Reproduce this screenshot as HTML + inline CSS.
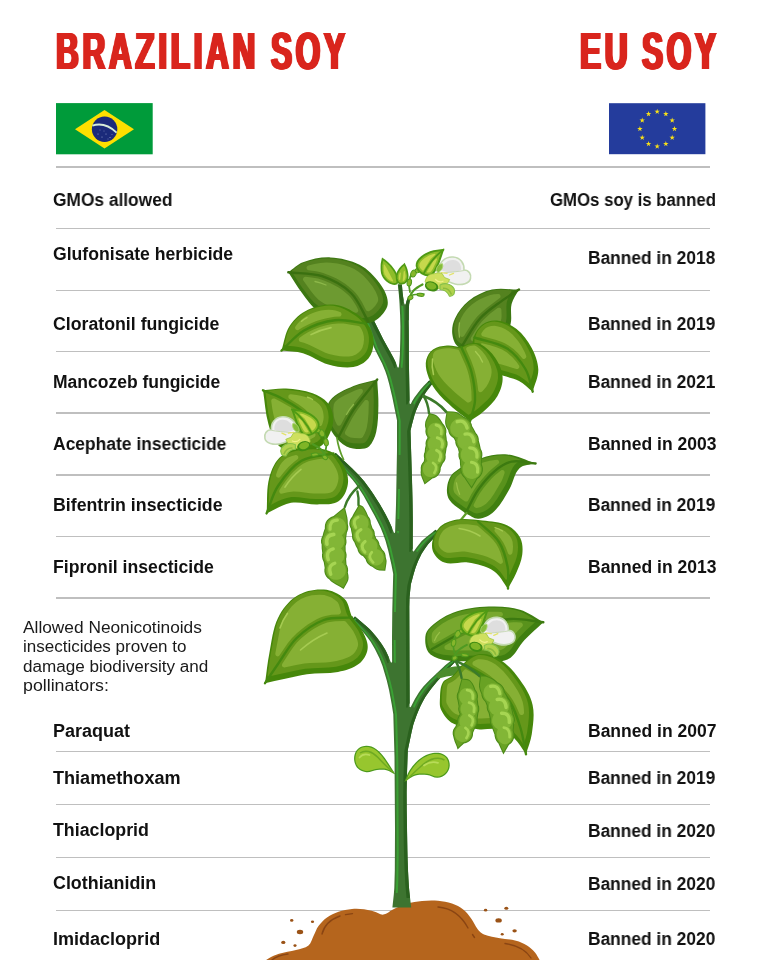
<!DOCTYPE html>
<html lang="en">
<head>
<meta charset="utf-8">
<title>Brazilian soy vs EU soy</title>
<style>
html,body{margin:0;padding:0;background:#fff;}
#pg{position:relative;width:768px;height:960px;overflow:hidden;background:#fff;font-family:"Liberation Sans",sans-serif;}
.t{position:absolute;white-space:nowrap;line-height:1;transform-origin:0 0;color:#111;will-change:transform;}
.b{font-weight:700;font-size:17.5px;}
.r{font-weight:400;font-size:16.0px;color:#1a1a1a;}
.h{font-weight:700;font-size:52.0px;color:#d9251d;letter-spacing:5.95px;font-kerning:none;text-shadow:1.15px 0 0 #d9251d,-1.15px 0 0 #d9251d,2.3px 0 0 #d9251d,-2.3px 0 0 #d9251d;}
.ln{position:absolute;left:56px;width:654.3px;height:1.5px;background:#bfbfbf;}
#art{position:absolute;left:0;top:0;}
</style>
</head>
<body>
<div id="pg">
<div class="ln" style="top:166.20px"></div>
<div class="ln" style="top:227.85px"></div>
<div class="ln" style="top:289.65px"></div>
<div class="ln" style="top:350.75px"></div>
<div class="ln" style="top:412.35px"></div>
<div class="ln" style="top:474.05px"></div>
<div class="ln" style="top:535.75px"></div>
<div class="ln" style="top:597.05px"></div>
<div class="ln" style="top:750.85px"></div>
<div class="ln" style="top:803.75px"></div>
<div class="ln" style="top:856.65px"></div>
<div class="ln" style="top:909.65px"></div>
<div class="t h" id="h0" style="left:55.90px;top:25.28px;transform:scaleX(0.608)">BRAZILIAN</div>
<div class="t h" id="h1" style="left:270.71px;top:25.28px;transform:scaleX(0.608)">SOY</div>
<div class="t h" id="h2" style="left:579.66px;top:25.28px;transform:scaleX(0.608)">EU</div>
<div class="t h" id="h3" style="left:642.00px;top:25.28px;transform:scaleX(0.608)">SOY</div>
<div class="t b" id="l0" style="left:52.80px;top:191.79px;transform:scaleX(0.9900)">GMOs allowed</div>
<div class="t b" id="l1" style="left:52.80px;top:246.29px;transform:scaleX(1.0067)">Glufonisate herbicide</div>
<div class="t b" id="l2" style="left:52.80px;top:316.29px;transform:scaleX(1.0128)">Cloratonil fungicide</div>
<div class="t b" id="l3" style="left:52.80px;top:374.19px;transform:scaleX(0.9988)">Mancozeb fungicide</div>
<div class="t b" id="l4" style="left:52.80px;top:435.59px;transform:scaleX(0.9960)">Acephate insecticide</div>
<div class="t b" id="l5" style="left:52.80px;top:497.09px;transform:scaleX(1.0138)">Bifentrin insecticide</div>
<div class="t b" id="l6" style="left:52.80px;top:558.79px;transform:scaleX(1.0082)">Fipronil insecticide</div>
<div class="t b" id="l7" style="left:53.40px;top:722.79px;transform:scaleX(1.0280)">Paraquat</div>
<div class="t b" id="l8" style="left:52.80px;top:769.79px;transform:scaleX(1.0333)">Thiamethoxam</div>
<div class="t b" id="l9" style="left:52.80px;top:821.59px;transform:scaleX(1.0170)">Thiacloprid</div>
<div class="t b" id="l10" style="left:52.80px;top:874.59px;transform:scaleX(1.0208)">Clothianidin</div>
<div class="t b" id="l11" style="left:52.80px;top:931.29px;transform:scaleX(1.0298)">Imidacloprid</div>
<div class="t b" id="r0" style="left:549.90px;top:191.79px;transform:scaleX(0.9584)">GMOs soy is banned</div>
<div class="t b" id="r1" style="left:587.90px;top:250.09px;transform:scaleX(0.9907)">Banned in 2018</div>
<div class="t b" id="r2" style="left:587.90px;top:316.29px;transform:scaleX(0.9907)">Banned in 2019</div>
<div class="t b" id="r3" style="left:587.90px;top:374.29px;transform:scaleX(0.9907)">Banned in 2021</div>
<div class="t b" id="r4" style="left:587.90px;top:435.59px;transform:scaleX(0.9984)">Banned in 2003</div>
<div class="t b" id="r5" style="left:587.90px;top:497.29px;transform:scaleX(0.9907)">Banned in 2019</div>
<div class="t b" id="r6" style="left:587.90px;top:559.29px;transform:scaleX(0.9984)">Banned in 2013</div>
<div class="t b" id="r7" style="left:587.90px;top:722.89px;transform:scaleX(0.9984)">Banned in 2007</div>
<div class="t b" id="r8" style="left:587.90px;top:769.69px;transform:scaleX(0.9907)">Banned in 2019</div>
<div class="t b" id="r9" style="left:587.90px;top:823.09px;transform:scaleX(0.9907)">Banned in 2020</div>
<div class="t b" id="r10" style="left:587.90px;top:876.39px;transform:scaleX(0.9907)">Banned in 2020</div>
<div class="t b" id="r11" style="left:587.90px;top:931.39px;transform:scaleX(0.9907)">Banned in 2020</div>
<div class="t r" id="p0" style="left:22.60px;top:619.96px;transform:scaleX(1.0812)">Allowed Neonicotinoids</div>
<div class="t r" id="p1" style="left:22.80px;top:639.46px;transform:scaleX(1.0623)">insecticides proven to</div>
<div class="t r" id="p2" style="left:22.80px;top:658.96px;transform:scaleX(1.0688)">damage biodiversity and</div>
<div class="t r" id="p3" style="left:22.80px;top:677.96px;transform:scaleX(1.1104)">pollinators:</div>
<svg id="art" width="768" height="960" viewBox="0 0 768 960">
<g id="flag-br"><rect x="56" y="103.1" width="96.7" height="51.2" fill="#009b3a"/><polygon points="75,129.2 104.5,109.9 134,129.2 104.5,148.5" fill="#fedf00"/><circle cx="104.6" cy="129.25" r="12.7" fill="#1b2a7a"/><path d="M92.4,125.6 Q105,121.6 116.6,132.6" fill="none" stroke="#d6ecd8" stroke-width="1.9"/><g fill="#aab8e0"><circle cx="98" cy="134" r=".5"/><circle cx="102" cy="137" r=".5"/><circle cx="106" cy="134" r=".5"/><circle cx="110" cy="137.5" r=".5"/><circle cx="104" cy="131" r=".45"/><circle cx="100" cy="130" r=".45"/><circle cx="108" cy="139" r=".45"/><circle cx="112" cy="134.5" r=".45"/></g></g>
<g id="flag-eu"><rect x="609" y="103.2" width="96.4" height="51" fill="#243c9c"/><g fill="#f7e018"><polygon points="657.20,108.80 657.85,110.80 659.96,110.80 658.25,112.04 658.90,114.05 657.20,112.81 655.50,114.05 656.15,112.04 654.44,110.80 656.55,110.80"/><polygon points="665.85,111.12 666.50,113.12 668.61,113.12 666.90,114.36 667.55,116.36 665.85,115.13 664.15,116.36 664.80,114.36 663.09,113.12 665.20,113.12"/><polygon points="672.18,117.45 672.83,119.45 674.94,119.45 673.24,120.69 673.89,122.70 672.18,121.46 670.48,122.70 671.13,120.69 669.42,119.45 671.53,119.45"/><polygon points="674.50,126.10 675.15,128.10 677.26,128.10 675.55,129.34 676.20,131.35 674.50,130.11 672.80,131.35 673.45,129.34 671.74,128.10 673.85,128.10"/><polygon points="672.18,134.75 672.83,136.75 674.94,136.75 673.24,137.99 673.89,140.00 672.18,138.76 670.48,140.00 671.13,137.99 669.42,136.75 671.53,136.75"/><polygon points="665.85,141.08 666.50,143.09 668.61,143.09 666.90,144.32 667.55,146.33 665.85,145.09 664.15,146.33 664.80,144.32 663.09,143.09 665.20,143.09"/><polygon points="657.20,143.40 657.85,145.40 659.96,145.40 658.25,146.64 658.90,148.65 657.20,147.41 655.50,148.65 656.15,146.64 654.44,145.40 656.55,145.40"/><polygon points="648.55,141.08 649.20,143.09 651.31,143.09 649.60,144.32 650.25,146.33 648.55,145.09 646.85,146.33 647.50,144.32 645.79,143.09 647.90,143.09"/><polygon points="642.22,134.75 642.87,136.75 644.98,136.75 643.27,137.99 643.92,140.00 642.22,138.76 640.51,140.00 641.16,137.99 639.46,136.75 641.57,136.75"/><polygon points="639.90,126.10 640.55,128.10 642.66,128.10 640.95,129.34 641.60,131.35 639.90,130.11 638.20,131.35 638.85,129.34 637.14,128.10 639.25,128.10"/><polygon points="642.22,117.45 642.87,119.45 644.98,119.45 643.27,120.69 643.92,122.70 642.22,121.46 640.51,122.70 641.16,120.69 639.46,119.45 641.57,119.45"/><polygon points="648.55,111.12 649.20,113.12 651.31,113.12 649.60,114.36 650.25,116.36 648.55,115.13 646.85,116.36 647.50,114.36 645.79,113.12 647.90,113.12"/></g></g>
<g id="plant"><g id="soil"><path d="M262.0,963.0C264.2,961.5 266.2,959.8 268.5,958.5C271.9,956.7 275.3,954.9 279.0,953.8C284.5,952.1 290.4,951.6 296.0,950.0C300.3,948.8 305.0,948.3 308.5,945.5C311.3,943.3 311.9,939.2 313.5,936.0C315.2,932.7 316.3,929.0 318.5,926.0C320.9,922.8 323.7,919.8 327.0,917.5C330.5,915.0 334.4,913.2 338.5,911.8C342.9,910.3 347.4,909.4 352.0,909.0C356.0,908.6 360.0,908.8 364.0,909.3C367.4,909.7 370.7,910.7 374.0,911.6C377.2,912.5 380.2,915.0 383.5,914.6C387.1,914.2 389.7,911.0 393.0,909.5C397.6,907.4 402.1,905.0 407.0,903.6C411.9,902.2 416.9,901.5 422.0,901.0C427.3,900.5 432.7,900.3 438.0,900.8C442.7,901.2 447.5,902.0 452.0,903.6C456.1,905.0 460.1,907.1 463.5,909.8C466.7,912.3 469.1,915.7 471.5,919.0C473.8,922.1 475.1,926.0 477.5,929.0C479.3,931.2 481.4,933.4 484.0,934.5C489.1,936.6 494.6,937.1 500.0,938.2C505.3,939.2 510.8,939.4 516.0,940.8C519.8,941.8 523.6,943.4 527.0,945.5C530.0,947.4 532.7,949.8 535.0,952.5C536.9,954.7 538.1,957.5 539.6,960.0C540.1,961.0 540.5,962.0 541.0,963.0C448.0,963.0 355.0,963.0 262.0,963.0Z" fill="#b5651d"/><path d="M322,934 C324,926 330,919.5 340,916" fill="none" stroke="#8a4513" stroke-width="1.4" stroke-linecap="round"/><path d="M345.5,914.6 L352.5,913.6" fill="none" stroke="#8a4513" stroke-width="1.4" stroke-linecap="round"/><path d="M438,907 C451,908 461,915 468,928" fill="none" stroke="#8a4513" stroke-width="1.4" stroke-linecap="round"/><path d="M472.5,934.5 L474.5,937.5" fill="none" stroke="#8a4513" stroke-width="1.4" stroke-linecap="round"/><path d="M272,960 C276,956.5 281,955 288,954" fill="none" stroke="#8a4513" stroke-width="1.4" stroke-linecap="round"/><path d="M505,943.5 C516,945 526,950 531,958" fill="none" stroke="#8a4513" stroke-width="1.4" stroke-linecap="round"/><ellipse cx="291.7" cy="920.4" rx="1.7" ry="1.4" fill="#9a5216"/><ellipse cx="312.5" cy="921.7" rx="1.6" ry="1.3" fill="#9a5216"/><ellipse cx="300" cy="932" rx="3.2" ry="2.2" fill="#9a5216"/><ellipse cx="283.3" cy="942.4" rx="2.1" ry="1.6" fill="#9a5216"/><ellipse cx="295" cy="945.6" rx="1.6" ry="1.3" fill="#9a5216"/><ellipse cx="485.6" cy="910.2" rx="1.7" ry="1.4" fill="#9a5216"/><ellipse cx="506.3" cy="908.3" rx="2.0" ry="1.5" fill="#9a5216"/><ellipse cx="498.6" cy="920.4" rx="3.2" ry="2.2" fill="#9a5216"/><ellipse cx="514.6" cy="930.8" rx="2.2" ry="1.6" fill="#9a5216"/><ellipse cx="502.2" cy="934.2" rx="1.5" ry="1.2" fill="#9a5216"/></g>
<g id="stems"><path d="M331.5,457.1L346.9,473.5L352.7,480.1L355.4,483.6L359.7,489.7L363.7,496.1L374.6,515.7L377.8,521.9L380.7,528.1L383.2,534.3L385.5,540.7L388.2,550.6L391.4,564.5L392.8,571.7L393.2,574.1L392.3,610.0L392.0,636.7L392.1,661.9L391.9,662.4L391.3,662.6L390.8,662.2L388.9,657.5L386.5,652.1L385.1,649.4L382.1,644.6L377.0,637.6L371.5,631.1L369.5,629.1L365.3,625.3L354.9,616.5L351.5,620.1L361.0,629.8L364.5,633.7L367.7,637.8L370.8,642.1L374.9,648.9L379.6,658.4L382.5,665.9L386.7,680.3L389.1,690.3L391.7,704.2L393.3,714.3L394.5,757.0L395.0,830.0L394.8,870.7L394.3,888.0L393.8,894.5L392.4,907.5L411.2,907.5L409.3,891.3L408.7,883.3L407.9,869.3L407.3,850.0L406.7,811.0L406.6,792.0L407.0,770.7L407.8,750.1L411.7,731.5L413.3,724.8L414.3,721.6L417.8,712.1L420.5,705.9L422.0,702.9L425.3,697.0L429.5,690.9L432.0,687.7L437.3,681.3L450.3,667.0L455.2,661.8L452.8,659.2L445.2,665.3L429.6,679.9L423.6,686.3L420.8,689.7L418.7,692.7L414.9,699.0L410.9,706.8L410.4,707.2L409.8,707.0L409.6,706.5L409.3,606.7L409.5,597.7L410.8,584.6L413.5,574.5L415.6,567.5L418.1,561.0L421.6,553.8L424.7,548.9L428.3,544.0L431.1,540.9L438.8,533.1L435.6,529.7L426.9,536.5L423.4,539.5L421.7,541.1L418.9,544.4L416.2,547.9L413.9,551.2L413.3,551.4L412.8,551.1L412.7,550.7L412.8,523.8L412.6,504.5L412.2,485.0L410.5,430.7L411.7,425.4L414.8,414.1L416.3,409.9L418.7,404.4L421.3,399.5L426.3,391.8L432.7,383.3L429.3,380.3L423.8,385.8L420.5,389.4L414.4,397.5L412.2,401.1L410.9,403.7L410.4,404.0L409.8,403.8L409.6,403.3L408.9,362.5L408.8,328.7L408.6,320.5L408.8,320.0L408.8,310.5L409.1,304.5L409.7,301.3L411.4,297.0L409.0,296.0L406.7,300.3L405.6,304.2L405.1,304.5L404.5,304.3L403.9,302.0L403.1,296.7L402.4,290.8L401.9,284.5L397.8,284.5L398.9,294.8L399.5,303.0L400.1,315.0L400.4,326.5L400.3,338.8L399.9,354.2L399.3,362.7L398.8,367.0L398.6,367.4L398.0,367.6L397.5,367.2L396.4,364.1L393.6,358.1L387.5,347.1L383.2,339.2L373.2,319.1L365.2,322.5L370.5,337.8L373.9,347.0L376.7,352.9L382.2,363.7L385.3,371.2L387.0,376.2L389.1,383.8L392.2,396.7L397.0,420.4L397.0,450.0L396.0,505.0L395.1,532.3L394.9,532.7L394.3,532.9L393.8,532.6L391.8,527.2L388.7,520.4L385.4,513.9L380.0,504.5L373.7,494.5L369.2,487.9L364.4,481.5L361.8,478.4L358.7,474.9L352.2,468.4L335.7,452.9Z" fill="#3d7430"/><path d="M409.8,898.0L410.0,897.7L409.0,888.0L408.4,878.7L407.6,860.0L406.7,811.0L406.6,792.0L406.8,781.3L407.8,750.1L411.7,731.5L413.3,724.8L416.6,715.2L420.5,705.9L423.6,699.9L425.3,697.0L429.5,690.9L431.9,687.7L437.3,681.3L450.3,667.0L455.1,662.0L455.1,661.7L452.8,659.3L450.6,660.9L451.8,662.4L446.9,667.6L433.9,681.9L428.5,688.3L426.1,691.5L422.0,697.6L418.6,703.5L414.4,712.7L410.9,722.1L409.9,725.4L408.3,732.1L404.4,750.7L403.5,776.6L403.2,798.9L403.8,845.6L404.4,865.3L405.3,883.9L406.5,897.8L406.8,898.0ZM409.7,703.0L409.3,606.7L409.5,597.6L410.8,584.6L413.5,574.5L415.6,567.5L418.1,561.0L421.6,553.8L424.7,548.9L428.3,544.0L431.1,540.9L438.6,533.2L438.6,532.9L435.7,529.8L433.5,531.5L435.4,533.7L427.7,541.5L424.9,544.7L420.2,551.1L417.3,556.1L413.8,563.7L412.2,568.1L410.1,575.1L407.4,585.2L406.1,598.3L405.9,613.9L406.2,707.1L406.4,707.5L406.8,707.8L407.2,707.7L407.5,707.4ZM412.7,548.6L412.8,519.0L412.5,499.7L410.5,430.7L411.7,425.4L414.8,414.1L416.3,409.9L418.7,404.4L421.3,399.5L426.3,391.8L432.6,383.4L432.6,383.2L429.3,380.4L427.5,382.2L429.3,383.9L423.7,391.2L418.9,398.5L416.1,403.3L413.7,408.5L412.1,412.6L410.8,416.8L408.3,426.0L407.1,431.3L409.0,495.4L409.4,524.4L409.3,551.3L409.4,551.7L409.8,552.0L410.5,551.8ZM405.4,320.6L405.2,321.2L405.5,367.6L406.2,403.9L406.5,404.4L406.9,404.6L407.5,404.3L409.6,400.3L408.8,358.0L408.8,338.8L408.6,320.5L408.8,320.0L408.8,310.5L409.1,304.6L409.7,301.3L411.3,297.2L411.2,297.0L409.2,296.0L408.9,296.1L407.7,298.2L406.9,300.2L406.3,302.0L405.8,304.3L405.4,311.1ZM398.1,284.5L397.8,284.7L397.9,285.0L398.5,285.1L399.2,293.8L400.3,301.6L401.0,304.7L401.3,305.1L401.8,305.1L402.3,304.7L403.6,300.2L402.6,293.2L401.9,284.7L401.7,284.5ZM373.3,319.3L373.0,319.2L370.4,320.3L370.2,320.6L379.8,339.8L390.2,358.7L393.0,364.7L394.1,367.8L394.5,368.2L395.0,368.1L395.4,367.6L395.9,363.0L395.1,361.1L392.1,355.2L387.5,347.1L383.2,339.2ZM335.9,453.1L335.6,453.1L333.9,454.7L333.9,455.0L348.8,469.0L355.3,475.5L361.0,482.1L368.1,491.8L376.6,505.1L380.2,511.3L383.7,517.8L386.9,524.4L390.4,533.2L390.9,533.5L391.4,533.4L391.7,532.9L391.9,527.5L388.7,520.4L385.4,513.9L380.0,504.5L371.5,491.2L364.4,481.5L358.7,474.9L352.2,468.4ZM355.1,616.6L354.8,616.7L353.2,618.3L353.2,618.6L361.9,625.9L366.1,629.7L370.0,633.8L373.6,638.2L378.7,645.1L381.7,650.0L384.3,655.4L387.4,662.8L387.8,663.2L388.4,663.1L388.7,662.5L388.6,656.8L385.1,649.5L380.4,642.2L375.2,635.4L369.5,629.1L365.3,625.3Z" fill="#2a611e"/><path d="M452.8,660.8L446.9,665.6L431.3,680.2L425.3,686.6L422.5,690.0L418.4,696.1L414.8,702.5L413.3,705.6L413.3,707.0L413.6,707.5L414.1,707.7L414.6,707.4L416.9,702.7L420.4,696.3L424.5,690.2L427.3,686.8L430.3,683.5L436.4,677.4L448.9,665.8L453.6,661.9L453.7,661.7ZM435.6,531.4L426.8,538.2L423.5,541.4L422.0,543.0L419.2,546.4L416.4,550.3L416.4,551.3L416.6,551.8L417.1,551.9L417.6,551.7L419.9,548.4L422.6,544.9L427.1,540.0L430.6,537.0L436.5,532.4L436.6,532.2ZM426.6,384.9L422.2,389.7L416.1,397.8L413.3,402.5L413.4,404.0L413.7,404.4L414.2,404.5L414.6,404.2L415.9,401.6L418.1,398.0L424.2,389.9L426.4,387.4L430.6,383.1L430.7,382.9L429.5,382.0ZM401.4,306.1L402.0,324.0L402.0,339.1L401.4,358.3L400.7,366.1L401.2,367.7L401.9,368.1L402.3,367.9L402.5,367.5L403.2,360.8L404.0,343.2L404.0,324.2L403.7,312.5L403.3,306.0ZM368.9,323.0L372.9,321.3L373.0,321.1L372.8,320.6L372.5,320.5L367.1,322.8L367.0,323.0L372.2,338.1L375.6,347.3L383.9,364.0L387.0,371.6L389.4,379.0L393.0,393.2L394.7,400.9L398.7,420.7L398.6,454.8L398.8,455.0L400.5,455.0L400.6,454.8L400.7,446.3L400.7,420.9L396.7,401.1L395.0,393.4L391.4,379.2L389.0,371.8L385.9,364.2L377.6,347.5L374.2,338.3ZM398.0,489.1L397.3,518.8L397.5,519.0L399.2,519.0L399.3,518.8L399.7,505.5L400.0,489.2L399.8,489.0L398.1,489.0ZM397.1,531.0L396.9,531.2L397.5,533.1L398.0,533.4L398.5,533.3L398.8,532.8L398.9,531.1ZM353.3,620.3L353.3,620.6L364.5,632.0L369.4,638.1L372.5,642.4L375.3,646.9L377.9,651.5L380.2,656.2L382.3,661.2L384.2,666.2L388.4,680.6L390.8,690.6L394.0,708.2L395.0,714.6L396.0,746.6L396.3,763.1L396.7,851.6L396.3,879.6L395.7,892.8L395.8,893.0L397.5,893.0L397.7,892.8L398.0,888.5L398.3,879.8L398.7,851.8L398.3,763.3L398.0,746.8L397.0,714.8L396.0,708.4L392.8,690.8L390.4,680.8L386.2,666.4L384.3,661.4L382.2,656.4L379.9,651.7L377.3,647.1L374.5,642.6L371.4,638.3L366.5,632.2L355.2,620.6L356.4,619.3L356.4,619.1L355.3,618.2ZM333.3,457.3L333.3,457.5L351.6,477.1L357.1,483.9L361.4,490.0L367.3,499.7L376.3,516.0L381.0,525.2L383.7,531.5L387.2,541.0L389.1,547.6L393.1,564.8L394.9,574.3L394.0,611.8L394.2,612.0L395.9,612.0L396.9,574.5L395.1,565.0L391.1,547.8L389.2,541.2L385.7,531.7L383.0,525.5L379.9,519.3L371.2,503.3L365.5,493.4L361.3,487.1L356.4,480.7L353.6,477.3L335.2,457.6L337.0,455.8L337.0,455.5L335.9,454.7ZM393.7,640.1L393.8,660.9L394.5,662.8L395.1,663.1L395.6,662.9L395.8,662.4L395.6,640.0Z" fill="#3aa535" opacity=".92"/></g>
<g id="coty"><path d="M395.4,774.6C393.1,770.9 391.0,767.1 388.5,763.5C386.0,759.9 383.7,756.1 380.6,753.0C378.0,750.4 375.0,747.8 371.5,746.6C368.5,745.5 365.0,745.5 362.0,746.4C359.4,747.2 357.1,749.2 355.8,751.5C354.3,754.2 353.8,757.5 354.2,760.5C354.6,763.5 355.8,766.5 358.0,768.6C360.2,770.7 363.4,772.0 366.5,772.2C370.1,772.5 373.4,770.4 377.0,770.0C380.2,769.7 383.4,769.4 386.5,770.2C389.7,771.0 392.4,773.1 395.4,774.6Z" fill="#4c9a1c"/><path d="M392.0,771.3L385.3,760.9L381.5,755.7L377.4,751.6L374.8,749.6L373.0,748.6L371.1,747.7L368.5,747.1L365.8,747.0L363.2,747.3L361.7,747.8L359.8,748.8L358.1,750.3L356.8,752.1L355.9,754.4L355.4,756.9L355.3,759.5L355.7,762.0L356.5,764.4L357.8,766.5L358.8,767.7L360.8,769.2L364.0,770.6L365.7,770.9L367.5,771.0L369.4,770.7L375.8,769.0L379.8,768.6L383.8,768.6L385.8,768.8L387.9,769.4Z" fill="#97c62e"/><path d="M360,753 C365,749.5 372,751 378,757.5 C384,764 389,769 393.5,772.5" fill="none" stroke="#6faa22" stroke-width="1.5"/><path d="M359.5,757.5 C362,754.5 366,753.8 369.5,755" fill="none" stroke="#b8dc58" stroke-width="1.8" stroke-linecap="round"/><path d="M404.3,782.3C406.0,778.4 407.2,774.1 409.5,770.5C412.0,766.6 414.9,763.0 418.4,760.0C421.5,757.4 425.1,755.3 429.0,754.0C432.5,752.9 436.4,752.3 440.0,753.0C442.9,753.6 445.7,755.3 447.4,757.6C449.1,759.9 449.9,763.1 449.7,766.0C449.5,768.9 448.1,772.0 446.0,774.0C443.8,776.2 440.6,777.6 437.5,777.8C433.9,778.0 430.6,775.4 427.0,775.0C423.5,774.6 419.9,774.5 416.5,775.2C414.0,775.7 411.7,777.2 409.5,778.5C407.6,779.6 406.0,781.0 404.3,782.3Z" fill="#4c9a1c"/><path d="M407.0,778.7L410.9,776.3L413.9,774.8L416.2,774.0L419.5,773.6L422.8,773.5L427.2,773.8L429.5,774.3L434.6,776.2L436.5,776.6L439.1,776.4L441.6,775.6L443.1,774.7L445.2,773.1L446.7,771.3L447.8,769.1L448.4,766.7L448.5,765.1L448.3,762.7L447.6,760.4L446.4,758.3L444.8,756.6L442.0,754.9L439.8,754.2L436.7,753.9L433.5,754.1L429.4,755.1L426.1,756.4L423.0,758.1L420.1,760.2L417.2,762.7L414.5,765.7L412.0,768.9L409.9,772.2L408.8,774.4Z" fill="#97c62e"/><path d="M444.5,760 C439,756.5 430.5,758 423,764.5 C416,770.5 410,776.5 406,780.5" fill="none" stroke="#6faa22" stroke-width="1.5"/><path d="M424,765.5 C428,762.5 433.5,761.6 438,762.8" fill="none" stroke="#b8dc58" stroke-width="1.8" stroke-linecap="round"/></g>
<g><path d="M288.3,272.3C293.2,268.9 297.4,264.2 303.0,262.2C311.7,259.1 321.1,257.0 330.4,257.4C340.4,257.9 350.7,260.2 359.6,264.8C367.6,269.0 374.1,275.8 379.5,283.0C383.7,288.7 387.6,295.4 387.8,302.5C388.0,307.8 384.1,312.7 380.5,316.5C377.4,319.8 373.0,322.3 368.5,323.0C360.8,324.2 352.6,323.8 345.0,322.0C335.5,319.8 326.1,316.4 318.0,311.0C311.3,306.5 306.9,299.4 302.0,293.0C297.0,286.4 292.9,279.2 288.3,272.3Z" fill="#3c7712"/><path d="M291.8,271.8L298.5,282.3L301.9,287.2L310.4,298.5L314.2,302.7L318.4,306.1L322.3,308.5L326.4,310.7L333.0,313.4L337.5,314.8L344.3,316.7L351.7,317.9L359.2,318.3L362.9,318.1L367.5,317.5L369.4,316.9L372.1,315.7L373.8,314.7L376.1,312.8L378.5,310.2L380.8,307.2L381.9,305.2L382.8,303.3L383.2,301.3L383.1,298.9L382.5,295.9L381.5,292.8L380.1,289.9L378.4,286.9L375.5,282.7L372.8,279.3L370.0,276.0L366.9,272.9L362.0,268.8L356.7,265.4L352.4,263.4L347.9,261.8L340.9,259.9L336.1,259.1L331.3,258.5L324.5,258.4L321.2,258.7L316.7,259.4L312.2,260.4L307.7,261.6L303.3,263.1L300.8,264.2L297.1,266.5L291.9,270.7L291.7,271.2Z" fill="#54821f"/><path d="M308.3,265.6L307.1,266.3L306.5,267.6L306.8,269.0L307.8,270.0L308.5,270.2L316.0,271.2L319.5,271.9L323.1,273.0L329.6,275.4L336.0,278.3L339.2,280.0L345.1,283.7L348.0,285.9L353.5,290.7L355.8,293.2L358.0,296.0L361.9,302.1L366.1,310.2L367.0,311.0L368.1,311.3L369.0,311.2L372.0,309.3L375.3,305.7L377.4,302.5L378.0,301.1L378.2,300.0L378.0,297.8L377.3,295.4L375.6,291.4L372.4,286.3L367.6,280.2L363.5,275.8L358.9,272.0L354.3,269.1L350.3,267.2L344.0,265.1L337.5,263.6L330.7,262.7L326.4,262.5L320.4,262.9L314.4,264.0ZM305.5,276.8L304.4,277.0L303.3,277.9L302.9,279.2L303.3,280.6L311.6,291.9L315.1,296.2L318.5,299.7L321.0,301.6L324.5,303.8L330.2,306.6L334.4,308.2L340.9,310.3L347.0,311.8L353.7,312.7L356.3,312.8L357.2,312.5L357.9,311.8L358.3,310.7L358.0,309.4L356.0,305.5L352.5,300.1L350.6,297.6L348.5,295.3L343.9,291.3L341.2,289.3L338.6,287.6L333.0,284.4L330.0,283.0L324.0,280.5L318.0,278.6L314.9,277.9L311.6,277.4Z" fill="#6d9a31"/><path d="M368.5,322.0C362.7,312.3 359.0,300.9 351.0,293.0C343.0,285.2 332.6,279.7 322.0,276.2C311.3,272.7 299.5,273.6 288.3,272.3" fill="none" stroke="#3a7010" stroke-width="2.4" stroke-linecap="round"/><path d="M315,281.5Q320,282.5 326,285" fill="none" stroke="#8db84a" stroke-width="1.3" stroke-linecap="round"/></g>
<g><path d="M281.5,350.6C284.2,342.4 284.9,333.2 289.6,326.0C294.1,319.1 300.6,313.3 308.0,309.8C316.3,305.9 325.9,303.9 335.0,304.8C343.1,305.6 350.7,310.0 357.5,314.5C362.5,317.8 366.9,322.3 369.8,327.5C372.4,332.1 373.8,337.7 373.6,343.0C373.4,348.4 371.9,354.3 368.4,358.5C364.7,362.9 359.0,366.2 353.3,367.0C345.0,368.2 336.4,366.6 328.3,364.4C319.4,362.0 311.8,355.8 303.0,353.2C296.1,351.2 288.7,351.5 281.5,350.6Z" fill="#46870a"/><path d="M284.5,344.7L284.6,345.3L285.1,345.6L293.0,346.2L296.9,346.7L300.7,347.4L304.8,348.7L309.4,350.6L321.8,356.9L325.7,358.5L329.7,359.6L335.7,361.0L339.7,361.6L345.6,362.0L349.5,361.9L353.8,361.1L357.5,359.7L359.7,358.4L361.8,356.9L364.6,354.2L366.4,351.4L367.4,349.3L368.1,346.9L368.9,341.9L368.9,337.1L368.5,334.7L367.6,331.2L366.2,327.9L364.9,325.7L363.4,323.4L360.7,320.3L358.7,318.3L355.5,315.8L347.5,310.8L344.0,309.0L340.4,307.5L336.8,306.4L333.3,305.8L329.1,305.6L325.9,305.7L321.4,306.4L316.9,307.5L312.6,308.9L308.4,310.6L303.1,313.6L299.9,316.0L296.8,318.7L292.7,323.2L290.4,326.5L289.1,328.9L287.0,334.5Z" fill="#65971a"/><path d="M299.6,337.8L298.9,338.7L298.8,339.8L299.1,340.9L300.0,341.7L303.9,342.8L309.0,344.7L325.3,352.7L329.0,353.9L334.5,355.3L340.1,356.2L343.8,356.6L348.8,356.5L352.3,355.9L356.0,354.4L358.6,352.5L361.1,350.0L362.4,347.7L363.5,344.1L364.0,339.8L363.8,336.1L362.9,332.3L361.3,328.7L360.1,326.9L359.6,326.4L358.6,326.0L349.4,324.4L343.7,323.6L340.8,323.4L338.0,323.4L332.2,324.0L326.1,325.3L320.0,327.0L314.1,329.3L308.4,332.0L303.4,334.9ZM295.4,326.5L295.0,327.8L295.4,329.1L295.8,329.6L296.6,330.1L298.0,330.2L302.4,327.5L308.3,324.4L314.6,321.8L318.0,320.6L324.4,318.7L327.9,317.9L334.5,316.8L340.1,316.4L340.9,315.9L341.4,315.1L341.6,314.2L341.4,313.5L340.7,312.3L338.6,311.4L335.5,310.4L332.5,310.0L328.8,309.8L324.9,310.0L321.0,310.6L317.2,311.5L313.5,312.7L309.9,314.2L305.4,316.7L302.7,318.7L300.1,321.0L297.7,323.5Z" fill="#86b034"/><path d="M365.0,323.5C355.0,322.4 345.0,319.1 335.0,320.2C324.2,321.4 313.5,325.1 304.0,330.5C295.3,335.5 289.0,343.9 281.5,350.6" fill="none" stroke="#44890f" stroke-width="2.4" stroke-linecap="round"/><path d="M311,334.6Q320,329.8 331,327.6" fill="none" stroke="#a6cb52" stroke-width="1.6" stroke-linecap="round"/><path d="M301.6,321.2Q304,319 307,317.6" fill="none" stroke="#a6cb52" stroke-width="1.4" stroke-linecap="round"/></g>
<g><path d="M519.0,289.6C510.0,289.6 500.8,287.6 492.0,289.6C483.5,291.5 475.4,295.6 468.5,301.0C462.7,305.5 458.2,311.9 455.0,318.5C452.7,323.2 451.7,328.8 452.3,334.0C452.9,338.8 454.6,344.2 458.5,347.0C464.0,350.8 471.3,352.6 478.0,352.0C486.5,351.2 495.5,348.6 502.0,343.0C507.3,338.5 508.9,330.8 510.6,324.0C512.2,317.5 510.0,310.5 511.6,304.0C512.9,298.8 516.5,294.4 519.0,289.6Z" fill="#3c7712"/><path d="M510.6,290.3L501.7,289.8L497.4,289.8L492.2,290.5L488.1,291.6L482.0,293.9L476.2,296.9L470.8,300.4L466.3,304.1L462.6,308.1L460.4,311.0L458.4,314.1L456.0,318.8L454.5,323.2L453.9,327.9L454.2,332.5L455.0,335.7L455.7,337.8L456.6,339.6L457.7,341.1L459.0,342.2L461.4,343.7L465.7,345.5L468.7,346.2L471.7,346.6L476.3,346.6L482.4,345.7L488.3,344.1L493.8,341.6L497.0,339.6L498.5,338.4L500.4,336.3L502.6,332.5L503.8,329.4L505.3,324.4L506.1,321.1L506.5,318.2L506.6,315.2L506.4,306.7L506.7,302.8L507.1,300.9L508.1,298.0L509.3,295.3L511.5,291.3L511.4,290.6Z" fill="#54821f"/><path d="M471.0,337.7L470.7,338.6L470.8,339.7L471.3,340.5L472.3,341.2L474.5,341.3L479.3,340.8L484.7,339.5L488.2,338.3L492.6,336.0L495.7,333.6L497.0,331.9L498.6,328.6L500.0,324.3L501.4,318.4L501.6,316.0L501.4,310.0L501.2,309.1L500.7,308.3L499.9,307.8L499.2,307.7L498.5,307.7L497.6,308.1L490.3,313.6L484.1,319.2L482.1,321.3L478.3,326.1L474.9,331.2ZM460.0,335.5L460.8,336.5L461.8,336.9L463.0,336.8L464.0,336.1L471.0,324.7L474.8,319.4L477.0,316.8L481.4,312.4L486.0,308.4L499.8,298.1L500.4,297.4L500.6,296.3L500.4,295.4L499.9,294.6L499.3,294.2L498.4,293.9L493.9,294.3L490.3,295.1L485.0,296.9L479.9,299.2L476.5,301.2L471.9,304.5L468.6,307.4L466.5,309.8L463.7,313.6L461.3,317.8L459.5,321.9L458.7,325.6L458.5,328.5L458.9,332.1Z" fill="#6d9a31"/><path d="M462.0,346.0C467.9,337.0 472.5,327.0 479.6,319.0C486.1,311.6 494.6,306.3 502.5,300.4C507.8,296.5 513.5,293.2 519.0,289.6" fill="none" stroke="#3a7010" stroke-width="2.4" stroke-linecap="round"/><path d="M459.5,323Q458,330 459.5,337" fill="none" stroke="#8db84a" stroke-width="1.3" stroke-linecap="round"/></g>
<g><path d="M473.0,340.0C474.3,334.1 477.7,328.2 482.5,324.5C486.8,321.2 492.9,320.1 498.3,320.8C504.9,321.7 511.4,324.8 516.6,329.0C522.9,334.1 527.9,340.9 531.7,348.0C535.2,354.6 538.1,362.0 538.3,369.5C538.5,377.1 534.6,384.3 532.7,391.7C528.1,388.1 524.1,383.7 519.0,381.0C513.9,378.3 508.0,377.4 502.5,375.6C497.0,373.8 490.7,373.4 486.0,370.0C481.3,366.6 477.8,361.4 475.5,356.0C473.4,351.0 471.8,345.3 473.0,340.0Z" fill="#46870a"/><path d="M474.5,339.5L474.4,341.8L474.8,345.4L475.7,349.0L477.0,352.5L478.9,356.2L481.0,359.6L483.6,362.7L485.5,364.4L487.5,365.9L490.8,367.3L510.4,372.7L516.3,374.6L519.2,376.0L521.9,377.7L524.4,379.5L528.9,383.2L529.5,383.3L529.9,383.0L532.8,374.0L533.7,369.0L533.4,364.0L532.8,360.6L531.8,357.2L530.6,353.8L528.3,348.9L525.6,343.9L523.4,340.7L521.1,337.5L518.7,334.5L516.0,331.8L513.2,329.3L509.4,326.6L506.7,325.0L503.8,323.7L500.9,322.7L497.9,322.0L494.1,321.6L491.5,321.8L488.9,322.4L486.4,323.3L484.1,324.5L481.9,326.2L479.8,328.2L478.0,330.6L476.5,333.3L475.5,335.9Z" fill="#65971a"/><path d="M481.6,332.9L481.3,333.8L481.3,334.7L481.7,335.6L482.4,336.2L495.4,339.7L501.9,342.1L505.2,343.6L508.6,345.5L513.5,349.0L517.8,353.1L522.5,358.5L523.4,358.9L524.3,358.9L525.2,358.6L526.0,357.7L526.3,356.8L526.3,355.9L524.6,352.0L521.3,345.8L518.3,341.3L514.9,337.2L512.5,334.6L508.9,331.6L505.4,329.3L501.8,327.6L498.1,326.4L494.7,325.8L491.1,326.0L488.4,326.7L485.8,328.0L483.5,330.2ZM490.1,345.3L482.1,343.3L481.2,343.5L480.6,343.9L480.1,344.6L479.8,346.0L480.4,348.0L482.3,352.2L484.1,355.3L486.8,358.7L489.1,360.7L491.1,361.8L493.2,362.5L501.6,364.6L516.4,369.0L517.8,369.0L518.4,368.6L519.0,368.0L519.4,366.9L519.2,365.7L516.4,361.8L512.9,357.8L511.0,356.0L507.0,352.6L502.1,349.6L496.4,347.2Z" fill="#86b034"/><path d="M474.5,337.5C485.2,341.1 497.1,342.3 506.7,348.3C514.6,353.2 520.6,361.0 525.4,369.0C529.5,375.8 530.3,384.1 532.7,391.7" fill="none" stroke="#44890f" stroke-width="2.4" stroke-linecap="round"/></g>
<g><path d="M461.4,347.2C456.6,346.7 451.8,345.2 447.0,345.6C442.2,346.0 437.0,346.8 433.0,349.6C429.6,352.0 427.2,356.0 426.2,360.0C425.2,364.4 426.0,369.2 427.3,373.5C429.1,379.4 431.8,385.1 435.5,390.0C440.3,396.5 446.5,402.0 452.5,407.5C458.0,412.5 464.2,416.6 470.0,421.2C474.5,418.0 479.4,415.2 483.5,411.5C488.6,406.8 494.1,402.1 497.5,396.0C500.7,390.3 503.0,383.5 502.6,377.0C502.1,370.0 498.9,363.3 495.0,357.5C491.3,352.0 486.3,347.2 480.5,344.0C477.3,342.2 473.1,343.0 469.5,343.6C466.6,344.1 464.1,346.0 461.4,347.2Z" fill="#46870a"/><path d="M461.8,348.0L459.6,348.2L451.2,346.8L446.9,346.5L443.5,346.9L439.9,347.6L437.6,348.3L435.5,349.2L433.5,350.3L432.0,351.6L430.6,353.0L429.1,355.2L428.1,357.7L427.7,359.5L427.5,361.3L427.6,364.3L428.7,369.4L431.0,375.8L432.8,379.8L434.3,382.3L437.9,387.4L440.4,390.4L444.4,394.7L453.2,402.9L460.2,408.6L468.2,414.7L468.8,414.8L474.8,410.9L479.0,407.8L487.4,399.9L489.7,397.4L491.6,394.9L493.3,392.2L494.7,389.5L495.9,386.6L496.9,383.7L497.6,380.8L498.0,377.9L497.9,373.5L497.3,370.4L495.7,365.9L494.3,362.8L491.8,358.5L489.1,354.6L486.1,351.1L482.6,348.0L480.2,346.2L477.6,344.7L476.6,344.2L475.3,344.0L473.4,343.9L468.3,344.8L466.4,345.6Z" fill="#65971a"/><path d="M467.5,346.9L466.9,347.3L466.4,348.0L466.1,348.9L466.2,349.6L471.1,360.6L474.0,368.5L475.5,373.9L476.7,379.6L477.6,385.4L478.2,390.5L478.6,391.3L479.3,391.9L480.2,392.2L481.2,392.1L481.8,391.8L482.7,391.0L486.3,386.7L488.2,383.5L489.9,379.7L491.1,376.0L491.6,372.6L491.5,369.4L490.7,365.9L488.6,360.7L485.5,355.5L482.2,351.3L478.4,347.8L475.9,345.9L474.7,345.5L473.4,345.5L470.0,346.0ZM434.3,352.0L433.2,354.1L432.8,356.2L432.8,358.9L433.4,362.1L434.7,366.3L436.2,370.0L438.6,374.5L440.7,377.6L444.1,381.7L447.9,385.8L455.0,392.5L460.4,397.1L467.3,402.4L468.0,402.6L468.9,402.5L470.6,401.6L471.2,401.0L471.6,399.9L471.4,391.8L470.5,383.6L468.9,375.5L467.5,370.5L465.8,365.7L459.0,350.5L458.3,349.8L457.4,349.5L449.9,348.3L446.5,348.2L442.5,348.7L439.2,349.5L436.1,350.6L434.8,351.4Z" fill="#86b034"/><path d="M461.4,347.2C464.8,355.5 469.3,363.4 471.5,372.0C473.8,381.1 475.3,390.6 475.0,400.0C474.8,407.3 471.7,414.1 470.0,421.2" fill="none" stroke="#44890f" stroke-width="2.4" stroke-linecap="round"/><path d="M432.5,359Q431.4,366.5 433.5,374.5" fill="none" stroke="#a6cb52" stroke-width="1.5" stroke-linecap="round"/><path d="M475.5,351.5Q480,356 482.5,362" fill="none" stroke="#a6cb52" stroke-width="1.4" stroke-linecap="round"/></g>
<path d="M423.6,396 C426.5,400.5 428.4,406 429,413.4" fill="none" stroke="#3b7a2a" stroke-width="2.4" stroke-linecap="round"/><path d="M423.6,396 C430,398.5 439.5,404 446,411.6" fill="none" stroke="#3b7a2a" stroke-width="2.8" stroke-linecap="round"/><g><path d="M424.6,484.6L432.4,478.5L434.2,478.0L436.2,477.0L438.0,475.6L439.3,473.8L440.3,471.8L440.7,469.6L440.7,468.0L442.9,463.3L443.4,462.8L444.7,461.0L445.5,458.9L445.7,456.6L445.5,454.9L446.1,451.6L446.6,448.0L447.2,446.6L447.6,444.4L447.5,442.1L446.8,440.3L446.6,437.7L446.0,433.7L446.3,432.9L446.4,430.6L446.0,428.5L445.1,426.4L443.8,424.6L443.0,423.8L441.8,421.7L440.4,419.6L438.8,417.6L437.0,415.8L436.3,415.3L434.9,414.6L429.3,413.0L426.2,419.4L425.4,421.5L425.2,422.7L425.0,425.1L425.1,426.4L425.7,429.0L425.5,429.6L425.4,431.8L425.8,434.0L426.7,436.1L427.4,437.0L427.3,438.1L427.3,438.5L426.8,439.1L425.9,441.1L425.5,443.3L425.7,445.4L425.0,448.6L424.7,452.0L424.0,453.8L423.8,456.0L424.2,458.7L424.0,460.3L423.7,461.4L422.1,463.5L421.1,465.5L420.7,467.7L420.8,470.3L420.6,472.5L420.9,475.0L421.7,477.4Z" fill="#4a8a16"/><path d="M421.6,472.5L421.7,473.6L422.2,475.9L423.1,478.2L425.1,482.9L431.8,477.7L433.9,477.1L435.7,476.2L437.2,474.9L438.5,473.3L439.3,471.5L439.7,469.5L439.7,468.1L439.8,467.5L442.1,462.8L442.6,462.2L443.8,460.5L444.5,458.6L444.7,456.7L444.5,454.8L445.2,451.5L445.6,447.8L446.3,446.3L446.6,444.3L446.5,442.3L445.8,440.4L445.6,437.8L445.0,433.8L445.3,432.7L445.4,430.7L445.1,428.7L444.3,426.9L443.0,425.3L442.1,424.4L440.9,422.2L439.6,420.2L438.0,418.3L436.3,416.6L435.8,416.1L434.6,415.5L429.9,414.2L427.2,419.8L426.4,421.8L426.1,422.8L426.0,425.1L426.1,426.3L426.7,429.0L426.4,431.7L426.7,433.7L427.5,435.6L428.3,436.8L428.3,438.2L428.2,438.8L427.7,439.6L426.9,441.4L426.5,443.4L426.7,445.5L426.0,448.7L425.7,452.2L425.0,454.0L424.8,456.0L425.2,458.7L425.0,460.5L424.6,461.8L422.9,464.0L422.1,465.8L421.7,467.8L421.8,470.3Z" fill="#69a224"/><path d="M436.4,439.8L434.5,439.7L432.8,439.2L431.1,438.2L429.8,436.9L428.7,435.4L428.0,433.6L427.7,431.7L427.8,429.8L428.3,427.9L429.2,426.2L430.4,424.8L431.9,423.7L433.6,423.0L435.4,422.7L437.3,422.8L439.0,423.3L440.7,424.2L442.0,425.5L443.1,427.1L443.8,428.9L444.1,430.8L444.0,432.7L443.5,434.6L442.6,436.2L441.4,437.7L439.9,438.8L438.2,439.5Z" fill="#82b636"/><path d="M436.2,452.4L434.2,452.1L432.4,451.4L430.8,450.3L429.5,448.9L428.5,447.2L428.0,445.4L427.8,443.5L428.1,441.6L428.9,439.8L430.0,438.2L431.4,436.9L433.1,436.0L435.0,435.4L437.0,435.3L438.9,435.6L440.7,436.3L442.3,437.4L443.7,438.8L444.6,440.5L445.2,442.3L445.3,444.3L445.0,446.2L444.3,447.9L443.2,449.5L441.7,450.8L440.0,451.8L438.1,452.3Z" fill="#82b636"/><path d="M432.8,464.7L430.9,464.0L429.3,463.0L427.9,461.6L426.9,460.0L426.2,458.1L426.0,456.2L426.3,454.3L426.9,452.5L428.0,450.9L429.3,449.5L431.0,448.5L432.8,447.9L434.8,447.7L436.7,448.0L438.6,448.6L440.2,449.7L441.6,451.0L442.6,452.7L443.2,454.5L443.4,456.4L443.2,458.3L442.6,460.1L441.5,461.8L440.1,463.1L438.5,464.1L436.6,464.7L434.7,464.9Z" fill="#82b636"/><path d="M428.0,476.8L426.4,476.1L425.1,474.9L424.0,473.5L423.2,471.8L422.9,470.0L422.9,468.1L423.3,466.2L424.1,464.5L425.2,462.9L426.6,461.7L428.2,460.7L429.9,460.2L431.7,460.1L433.4,460.5L435.0,461.2L436.3,462.3L437.4,463.8L438.1,465.4L438.5,467.3L438.5,469.2L438.1,471.1L437.3,472.8L436.2,474.4L434.8,475.6L433.2,476.5L431.5,477.0L429.7,477.1Z" fill="#82b636"/><path d="M436.0,425.0Q442.6,425.9 441.2,433.9" fill="none" stroke="#a6d552" stroke-width="2.8" stroke-linecap="round"/><path d="M437.3,437.7Q444.2,439.2 441.9,447.1" fill="none" stroke="#a6d552" stroke-width="3.0" stroke-linecap="round"/><path d="M436.6,450.4Q443.1,453.2 439.3,460.5" fill="none" stroke="#a6d552" stroke-width="3.0" stroke-linecap="round"/><path d="M433.0,462.9Q438.5,466.0 434.3,473.0" fill="none" stroke="#a6d552" stroke-width="2.6" stroke-linecap="round"/></g>
<g><path d="M465.8,513.6C460.4,509.1 453.5,505.8 449.5,500.0C446.9,496.2 446.5,491.0 447.2,486.5C448.0,481.4 450.0,475.8 454.0,472.5C461.8,466.0 471.3,461.4 481.0,458.2C489.5,455.4 498.6,453.6 507.5,454.5C517.3,455.5 526.2,460.5 535.6,463.5C530.2,465.1 523.5,464.3 519.5,468.2C514.0,473.6 513.4,482.4 509.5,489.0C504.9,496.8 500.6,505.2 494.0,511.5C489.9,515.5 484.2,518.4 478.5,518.8C473.9,519.1 470.0,515.3 465.8,513.6Z" fill="#3f7f10"/><path d="M466.1,508.6L473.9,512.8L475.5,513.3L477.0,513.4L480.5,512.7L484.0,511.4L487.4,509.4L490.4,507.0L493.3,503.9L497.2,498.7L500.7,493.1L505.3,485.2L506.9,482.1L511.0,471.1L513.0,467.3L514.4,465.3L516.1,463.5L517.5,462.4L520.5,460.7L520.7,460.3L520.5,459.7L516.9,458.2L512.5,456.8L508.0,455.8L505.8,455.5L501.6,455.3L498.1,455.4L494.2,455.9L489.9,456.7L485.5,457.7L478.9,459.9L474.1,461.7L469.5,463.8L465.0,466.1L460.7,468.7L454.6,473.2L452.8,474.9L451.4,477.0L450.5,479.0L449.4,482.4L448.8,485.8L448.7,488.8L449.0,491.8L449.5,493.6L450.8,496.0L453.8,499.4L457.6,502.5Z" fill="#59921c"/><path d="M473.9,504.3L473.6,505.2L473.7,505.9L474.4,507.1L476.1,507.9L478.0,507.8L480.8,506.9L483.5,505.5L486.1,503.7L488.2,501.6L490.7,498.7L494.1,493.7L501.6,481.0L502.9,478.0L504.6,473.0L504.6,471.8L503.9,470.6L503.3,470.2L502.4,470.0L501.7,470.1L500.9,470.5L495.3,475.0L491.9,478.3L488.6,481.9L484.0,487.6L479.7,493.6L477.1,497.9ZM464.7,501.2L465.5,501.5L466.2,501.6L467.1,501.4L467.9,500.9L471.2,494.6L474.0,489.9L477.0,485.5L481.8,479.4L485.3,475.4L488.9,471.7L492.8,468.2L498.6,463.6L499.1,462.8L499.2,461.9L498.9,461.0L498.3,460.3L497.5,459.8L496.5,459.7L489.8,460.8L483.9,462.3L477.4,464.6L470.9,467.4L464.9,470.6L459.3,474.4L456.7,476.8L455.5,478.5L454.8,480.1L453.7,484.0L453.3,488.0L453.4,489.6L453.8,491.3L454.3,492.4L455.1,493.5L456.9,495.3L460.2,498.0Z" fill="#78a82e"/><path d="M465.8,512.6C470.0,504.9 473.3,496.8 478.3,489.6C483.1,482.7 488.6,476.2 495.0,470.8C499.9,466.7 505.4,462.7 511.7,461.6C519.6,460.2 527.6,462.9 535.6,463.5" fill="none" stroke="#3c7a10" stroke-width="2.4" stroke-linecap="round"/><path d="M456.5,483Q457.2,489 459.6,494.2" fill="none" stroke="#98c048" stroke-width="1.3" stroke-linecap="round"/></g>
<path d="M466.5,513 C463.5,517 461,520 458,522.8" fill="none" stroke="#5f9e2a" stroke-width="2.2" stroke-linecap="round"/><g><path d="M432.3,549.0C431.1,542.0 433.9,534.0 438.5,528.5C442.9,523.3 450.3,520.8 457.0,519.6C465.4,518.1 474.0,519.6 482.5,520.6C490.9,521.6 499.8,521.9 507.5,525.4C512.9,527.9 517.6,532.6 520.3,538.0C522.8,543.1 522.9,549.3 522.2,555.0C521.4,561.5 518.5,567.6 516.0,573.6C513.8,578.8 510.7,583.6 508.0,588.6C503.3,582.8 500.2,575.3 494.0,571.2C486.3,566.2 477.0,564.2 468.0,562.6C460.3,561.3 451.8,565.4 444.5,562.6C438.8,560.4 433.4,555.0 432.3,549.0Z" fill="#46870a"/><path d="M434.3,547.3L434.7,548.5L435.9,550.7L438.6,553.8L441.9,556.3L444.2,557.4L445.6,557.8L447.2,558.1L450.5,558.1L460.5,557.0L464.7,557.0L467.0,557.2L474.0,558.6L478.8,559.7L483.4,561.1L487.9,562.9L492.2,565.0L494.3,566.3L497.6,568.9L500.5,572.1L505.6,579.4L506.2,579.7L506.9,579.3L510.5,572.6L515.4,561.2L516.8,556.8L517.4,553.9L517.8,551.1L518.0,547.0L517.7,543.1L517.3,540.6L516.5,538.3L515.4,536.0L513.1,532.7L511.3,530.7L508.2,528.1L505.9,526.7L501.2,524.7L497.4,523.7L493.4,523.0L470.2,520.3L464.0,520.0L460.5,520.1L457.2,520.5L450.5,522.1L447.2,523.4L444.2,524.9L441.5,526.8L440.3,527.9L439.2,529.1L437.1,531.9L436.1,533.9L434.9,537.0L433.9,541.7L433.9,544.7Z" fill="#65971a"/><path d="M497.3,528.1L496.0,528.2L494.9,529.0L494.4,530.3L494.7,531.6L499.9,537.5L503.3,542.5L505.8,547.5L508.1,553.6L508.7,554.3L509.6,554.7L510.3,554.7L511.2,554.4L512.1,553.6L512.4,552.8L512.8,550.0L513.0,546.5L512.6,542.0L512.1,540.2L511.5,538.7L509.9,536.1L508.5,534.4L505.3,531.5L502.5,529.8L499.6,528.7ZM438.9,545.9L440.2,548.2L441.7,549.8L444.0,551.5L446.4,552.5L447.7,552.7L450.2,552.7L462.1,551.5L464.7,551.6L467.8,551.9L477.4,553.9L482.3,555.2L487.0,556.8L489.8,557.9L494.2,560.1L499.9,563.8L500.8,563.9L501.7,563.6L502.5,563.0L502.9,562.1L502.9,561.2L502.6,559.8L500.4,552.5L498.5,548.0L496.1,543.8L492.9,539.7L489.0,535.7L477.6,525.8L476.7,525.4L467.5,524.3L463.7,524.2L460.1,524.3L456.7,524.7L452.5,525.7L449.7,526.6L447.3,527.7L445.2,528.9L443.1,530.8L441.5,533.0L440.2,535.3L439.2,537.9L438.5,541.4L438.5,543.9Z" fill="#86b034"/><path d="M478.0,521.5C485.0,528.3 493.6,533.8 499.0,542.0C503.8,549.3 505.9,558.1 507.6,566.7C509.0,573.9 507.9,581.3 508.0,588.6" fill="none" stroke="#44890f" stroke-width="2.4" stroke-linecap="round"/><path d="M459,528.4Q470,529.6 480,536" fill="none" stroke="#a6cb52" stroke-width="1.5" stroke-linecap="round"/><path d="M495,527.6Q499,528.6 502.5,531" fill="none" stroke="#a6cb52" stroke-width="1.3" stroke-linecap="round"/></g>
<g><path d="M446.6,411.2L446.2,414.0L445.5,418.2L445.1,420.9L445.2,423.6L445.5,425.0L446.0,426.6L446.7,428.0L448.2,430.3L448.4,431.6L449.3,434.0L450.8,436.0L452.7,437.6L453.7,438.2L454.3,439.2L455.3,441.3L455.3,442.7L455.9,445.1L457.1,447.3L457.7,448.0L458.8,452.3L458.4,454.1L458.5,456.6L459.2,459.0L459.8,460.1L460.0,464.6L460.5,468.2L460.4,470.2L460.9,472.7L461.9,475.0L463.4,477.0L464.1,477.5L471.6,488.8L477.4,478.9L479.4,477.4L481.0,475.5L482.2,473.3L482.8,470.9L482.9,468.3L482.4,465.9L481.8,464.5L481.9,460.6L481.9,458.0L482.4,455.3L482.3,452.8L481.6,450.4L480.8,448.9L479.8,444.2L478.8,440.7L478.8,438.9L478.2,436.5L477.0,434.3L475.9,433.0L473.8,428.9L472.0,425.9L471.8,424.5L470.8,422.2L469.4,420.1L467.4,418.5L465.1,417.3L464.4,417.1L462.2,415.4L459.7,413.7L457.0,412.3L456.0,411.9L455.0,411.7L453.0,411.4Z" fill="#4a8a16"/><path d="M446.1,422.3L446.5,424.7L447.0,426.2L447.6,427.6L449.1,429.9L449.3,431.4L450.2,433.5L451.5,435.3L453.2,436.8L454.3,437.3L454.7,437.8L456.2,441.1L456.3,442.6L456.9,444.8L457.9,446.8L458.6,447.7L459.7,452.1L459.4,454.2L459.5,456.5L460.1,458.6L460.8,460.0L461.0,464.5L461.4,468.1L461.4,470.2L461.8,472.4L462.8,474.5L464.2,476.3L464.9,477.0L466.9,480.1L471.5,486.8L476.6,478.3L478.7,476.7L480.2,474.9L481.3,472.9L481.8,470.7L481.9,468.4L481.5,466.2L480.8,464.6L480.9,460.6L480.9,458.0L481.4,455.2L481.3,452.9L480.7,450.8L479.8,449.1L478.8,444.5L477.8,440.9L477.8,439.0L477.2,436.8L476.1,434.8L475.0,433.5L472.9,429.4L471.1,426.4L470.8,424.8L469.9,422.6L468.6,420.8L466.9,419.3L464.8,418.3L463.9,418.0L460.4,415.4L456.6,413.2L455.7,412.9L453.9,412.5L447.5,412.3L446.2,419.7Z" fill="#69a224"/><path d="M464.7,436.5L462.6,437.4L460.4,437.7L458.2,437.6L456.1,437.1L454.2,436.0L452.6,434.6L451.3,432.9L450.5,430.9L450.2,428.7L450.3,426.5L451.0,424.5L452.1,422.5L453.6,420.9L455.4,419.6L457.5,418.8L459.7,418.4L461.9,418.5L464.0,419.1L465.9,420.1L467.6,421.5L468.8,423.3L469.6,425.3L470.0,427.4L469.8,429.6L469.1,431.7L468.0,433.6L466.5,435.2Z" fill="#82b636"/><path d="M470.5,449.8L468.4,450.3L466.3,450.4L464.2,450.0L462.2,449.1L460.5,447.8L459.1,446.2L458.1,444.3L457.5,442.2L457.4,440.1L457.9,437.9L458.7,436.0L460.0,434.2L461.6,432.8L463.6,431.8L465.6,431.3L467.8,431.2L469.9,431.6L471.9,432.5L473.6,433.8L475.0,435.4L476.0,437.3L476.6,439.4L476.6,441.6L476.2,443.7L475.4,445.6L474.1,447.4L472.4,448.8Z" fill="#82b636"/><path d="M472.0,464.2L469.8,464.3L467.6,463.9L465.6,463.1L463.8,461.8L462.4,460.2L461.4,458.3L460.8,456.3L460.7,454.1L461.1,452.0L461.9,450.0L463.2,448.3L464.9,446.8L466.8,445.8L468.9,445.2L471.1,445.1L473.2,445.5L475.2,446.3L477.0,447.6L478.4,449.2L479.5,451.1L480.1,453.1L480.2,455.3L479.8,457.4L478.9,459.4L477.6,461.2L476.0,462.6L474.1,463.6Z" fill="#82b636"/><path d="M472.5,478.9L470.4,478.8L468.5,478.3L466.7,477.3L465.1,475.9L463.9,474.1L463.1,472.2L462.7,470.1L462.7,467.9L463.2,465.8L464.1,463.9L465.4,462.3L467.0,461.0L468.9,460.1L470.8,459.7L472.9,459.8L474.8,460.3L476.6,461.3L478.2,462.7L479.4,464.5L480.2,466.4L480.6,468.5L480.6,470.7L480.1,472.8L479.2,474.7L477.9,476.3L476.3,477.6L474.4,478.5Z" fill="#82b636"/><path d="M457.2,421.7Q464.8,419.1 467.1,428.0" fill="none" stroke="#a6d552" stroke-width="3.4" stroke-linecap="round"/><path d="M465.0,434.2Q472.6,432.6 473.8,441.8" fill="none" stroke="#a6d552" stroke-width="3.3" stroke-linecap="round"/><path d="M469.8,447.8Q477.7,447.9 476.9,457.1" fill="none" stroke="#a6d552" stroke-width="3.3" stroke-linecap="round"/><path d="M471.5,462.3Q478.8,463.1 477.5,472.2" fill="none" stroke="#a6d552" stroke-width="3.1" stroke-linecap="round"/></g>
<g><path d="M377.2,379.4C369.3,381.6 361.0,382.7 353.5,386.0C345.1,389.8 335.6,393.2 330.0,400.5C326.0,405.7 326.7,413.5 327.5,420.0C328.1,425.4 330.8,430.6 334.0,435.0C337.3,439.6 341.5,443.8 346.5,446.5C350.5,448.7 355.4,449.0 360.0,449.0C363.1,449.0 366.9,448.8 369.0,446.6C372.7,442.7 375.0,437.3 376.2,432.0C378.2,423.2 378.2,414.0 378.4,405.0C378.6,396.5 377.6,387.9 377.2,379.4Z" fill="#3c7712"/><path d="M329.9,402.3L329.1,404.9L328.7,409.3L328.9,414.2L329.7,419.8L330.8,423.2L332.5,426.6L335.2,430.9L337.7,434.1L340.4,436.9L343.4,439.4L346.6,441.5L349.2,442.5L353.2,443.3L359.3,443.6L362.8,443.3L364.3,442.8L365.1,442.4L366.8,440.4L368.1,438.4L370.2,433.9L371.7,429.1L372.8,422.7L373.5,414.0L373.8,400.7L373.4,390.2L372.9,382.4L372.7,381.9L371.9,381.7L359.5,384.7L355.7,386.1L345.3,390.6L339.1,393.8L335.4,396.4L332.1,399.4L330.7,401.1Z" fill="#54821f"/><path d="M345.1,431.7L344.8,433.1L345.4,434.4L347.9,436.2L350.5,437.4L354.4,438.0L359.8,438.2L361.6,437.9L362.8,436.9L364.7,433.6L365.9,430.6L366.8,427.4L367.8,421.5L368.5,413.2L368.8,402.4L368.5,401.2L367.7,400.3L366.9,400.0L366.2,399.9L365.5,400.1L364.7,400.6L357.7,409.6L354.8,413.9L352.0,418.5ZM336.9,424.5L337.7,425.4L338.8,425.7L340.0,425.5L341.0,424.6L346.1,415.1L350.6,407.9L355.4,401.4L362.6,392.4L362.9,391.5L362.9,390.5L362.5,389.7L361.9,389.0L360.5,388.7L358.3,389.3L355.0,390.6L344.7,395.2L341.2,397.2L338.2,399.1L335.8,401.3L334.7,402.6L333.8,404.5L333.4,407.4L333.3,410.2L333.7,414.7L334.0,417.2L334.7,419.8L335.5,421.8Z" fill="#6d9a31"/><path d="M338.5,437.0C343.0,428.7 346.9,420.0 352.0,412.0C356.8,404.6 362.6,398.0 368.0,391.0C371.0,387.1 374.1,383.3 377.2,379.4" fill="none" stroke="#3a7010" stroke-width="2.4" stroke-linecap="round"/><path d="M346.5,414.5Q349.5,409 353.5,404.5" fill="none" stroke="#8db84a" stroke-width="1.3" stroke-linecap="round"/></g>
<path d="M337,438 C338,446 340.5,453 343.5,459.6" fill="none" stroke="#5f9e2a" stroke-width="1.8" stroke-linecap="round"/><g><path d="M263.0,390.3C270.7,389.7 278.3,388.2 286.0,388.6C295.0,389.1 304.1,390.3 312.6,393.2C318.3,395.2 323.9,398.4 327.8,403.0C331.2,407.0 332.8,412.6 333.2,417.8C333.6,422.8 332.2,428.0 330.2,432.6C328.0,437.6 325.5,443.0 321.0,446.0C314.9,450.1 307.4,453.0 300.0,453.0C292.6,453.0 284.4,451.0 279.0,446.0C273.0,440.5 270.6,431.8 268.4,424.0C265.3,413.1 264.8,401.5 263.0,390.3Z" fill="#46870a"/><path d="M265.4,391.6L267.0,404.7L268.2,412.9L269.4,418.3L271.8,426.8L273.8,432.4L275.5,435.9L277.4,438.8L278.5,440.2L280.9,442.4L282.3,443.4L285.1,444.9L290.0,446.6L293.4,447.2L296.9,447.6L301.9,447.4L306.9,446.3L310.1,445.2L313.3,443.8L317.8,441.2L319.4,439.8L321.0,438.1L323.6,433.9L326.7,426.9L327.8,423.6L328.3,421.4L328.7,417.0L328.3,413.5L327.9,411.1L326.3,406.6L325.2,404.7L324.0,402.9L321.1,400.0L319.0,398.4L316.6,396.9L314.1,395.6L310.2,394.0L306.1,392.8L301.9,391.8L293.2,390.4L282.6,389.5L279.0,389.6L274.6,390.0L265.9,391.0Z" fill="#65971a"/><path d="M290.9,394.3L289.5,394.6L288.5,395.6L288.3,396.9L288.5,397.8L288.9,398.4L298.0,404.0L302.8,407.4L305.3,409.5L310.0,414.4L312.4,417.3L318.3,425.5L319.1,426.0L320.0,426.1L320.7,425.9L321.5,425.4L322.0,424.7L322.4,423.7L323.4,420.0L323.7,417.2L323.5,414.7L323.0,411.6L322.1,408.8L320.9,406.5L319.3,404.5L317.0,402.4L315.0,401.1L311.9,399.4L308.4,398.0L304.6,396.8L300.6,395.8L296.6,395.1ZM274.6,398.6L273.5,398.4L272.4,398.8L271.6,399.6L271.2,400.7L272.3,408.8L273.3,414.0L275.6,422.9L278.0,429.9L280.2,434.1L282.7,437.2L285.7,439.3L289.5,440.9L293.8,441.9L298.4,442.2L302.6,441.8L306.8,440.7L311.0,438.9L313.7,437.4L315.0,436.4L315.6,435.1L315.4,434.0L311.3,427.4L307.1,421.7L304.9,419.0L300.7,414.6L296.5,411.2L291.8,408.1L279.4,401.0Z" fill="#86b034"/><path d="M326.0,444.0C319.0,434.0 313.5,422.7 305.0,414.0C298.3,407.1 289.4,402.7 281.0,398.0C275.3,394.8 269.0,392.9 263.0,390.3" fill="none" stroke="#44890f" stroke-width="2.4" stroke-linecap="round"/><path d="M307.5,397.2Q310,397.8 312.5,399.5" fill="none" stroke="#a6cb52" stroke-width="1.4" stroke-linecap="round"/></g>
<g><path d="M266.6,513.4C267.5,501.6 266.2,489.5 269.2,478.0C271.3,469.9 274.9,461.2 281.5,456.0C288.3,450.6 297.8,449.4 306.5,448.6C314.5,447.9 323.2,448.1 330.5,451.6C336.7,454.6 341.2,460.9 344.4,467.0C347.2,472.3 348.8,478.6 347.8,484.5C346.7,490.8 343.8,497.7 338.5,501.2C332.6,505.1 324.6,504.2 317.5,504.4C308.7,504.7 299.7,501.3 291.0,502.8C282.3,504.3 274.7,509.9 266.6,513.4Z" fill="#46870a"/><path d="M268.7,504.6L269.0,505.3L269.7,505.4L277.8,501.3L282.0,499.4L286.8,497.9L291.4,497.1L294.0,497.0L298.6,497.2L309.8,498.7L316.1,499.0L325.1,498.9L328.4,498.6L331.5,498.0L334.2,497.0L335.4,496.3L337.3,494.7L339.8,491.5L341.7,487.5L342.6,484.7L343.2,481.8L343.5,478.0L343.0,474.0L342.3,471.4L341.3,468.8L339.4,464.8L335.7,459.3L333.7,456.8L331.4,454.7L329.0,453.0L326.1,451.6L320.8,450.0L317.1,449.5L313.2,449.3L307.5,449.4L302.2,449.9L297.8,450.6L293.5,451.5L289.4,452.7L285.5,454.4L282.0,456.7L280.5,458.1L277.8,461.1L275.1,465.2L273.4,468.8L272.0,472.7L270.3,479.3L269.4,484.9L269.0,490.6Z" fill="#65971a"/><path d="M279.5,490.1L279.2,491.2L279.4,492.3L280.3,493.4L281.4,493.7L287.7,492.2L293.4,491.6L299.0,491.8L310.1,493.3L313.8,493.6L324.7,493.5L327.7,493.2L330.1,492.8L332.4,491.8L334.2,490.1L335.5,488.3L337.0,485.2L338.1,481.6L338.5,478.6L338.3,475.5L337.5,472.2L336.2,468.9L333.4,464.0L330.8,460.5L329.1,458.7L328.3,458.1L327.1,458.0L317.5,459.3L311.5,460.5L308.6,461.3L305.7,462.5L303.1,463.8L300.6,465.4L297.9,467.4L293.3,471.8L290.9,474.3L286.7,479.5L282.7,485.1ZM276.1,474.6L276.1,476.0L276.5,476.8L277.0,477.3L277.9,477.6L278.5,477.7L279.4,477.5L280.0,477.1L283.6,472.5L288.4,467.0L293.6,462.2L297.8,459.0L298.2,458.2L298.3,457.5L298.2,456.5L297.8,455.9L297.0,455.3L295.9,455.1L292.0,456.0L287.4,457.8L284.8,459.6L281.9,462.5L280.0,465.3L277.7,470.0Z" fill="#86b034"/><path d="M333.5,453.4C322.8,455.9 310.9,455.3 301.5,460.8C291.6,466.6 284.4,476.4 278.0,486.0C272.5,494.2 270.4,504.3 266.6,513.4" fill="none" stroke="#44890f" stroke-width="2.4" stroke-linecap="round"/><path d="M285,487.2Q291,477.4 301,469.4" fill="none" stroke="#a6cb52" stroke-width="1.6" stroke-linecap="round"/></g>
<path d="M359.2,486 C352,492 347.2,499 344.8,507" fill="none" stroke="#3b7a2a" stroke-width="2.4" stroke-linecap="round"/><path d="M357.4,491.5 C358.6,496 358.8,500.5 358.5,505" fill="none" stroke="#3b7a2a" stroke-width="2.4" stroke-linecap="round"/><g><path d="M333.6,516.0L331.0,517.0L328.8,518.4L327.0,520.2L325.7,522.4L325.0,524.8L324.8,527.3L324.9,528.3L323.4,532.5L322.6,535.7L321.5,537.9L321.0,540.4L321.1,542.9L321.6,544.3L321.7,548.6L322.3,553.3L322.0,554.3L322.0,556.8L322.5,559.3L323.7,561.9L324.7,567.9L324.4,569.3L324.4,571.8L325.0,574.2L326.2,576.5L327.9,578.4L328.9,579.1L330.9,581.2L332.3,582.3L335.4,584.3L340.4,587.0L343.6,589.0L347.5,582.1L348.3,580.1L348.6,577.7L348.4,575.3L347.8,572.2L348.1,571.1L348.0,568.6L347.4,566.2L346.5,564.4L346.1,558.8L346.5,557.2L346.6,554.7L346.1,552.2L345.7,551.3L345.6,546.8L345.6,545.7L346.0,544.9L346.5,542.4L346.4,539.9L346.1,538.8L346.2,537.7L346.9,532.4L347.3,531.7L348.1,529.3L348.3,526.7L347.8,523.9L347.7,520.2L347.3,517.2L344.8,506.8Z" fill="#4a8a16"/><path d="M322.0,540.5L322.1,542.7L322.5,544.2L322.7,548.6L323.3,553.2L323.0,554.5L323.0,556.7L323.4,559.0L324.7,561.7L325.6,567.8L325.4,569.4L325.4,571.6L326.0,573.9L327.1,575.9L328.6,577.6L329.6,578.4L331.5,580.4L334.4,582.5L343.2,587.6L346.6,581.7L347.3,579.8L347.6,577.7L347.4,575.4L346.8,572.3L347.1,571.0L347.0,568.7L346.4,566.5L345.7,565.0L345.5,564.5L345.1,558.8L345.5,557.1L345.6,554.8L345.1,552.6L344.7,551.4L344.6,546.8L344.6,545.4L345.0,544.5L345.5,542.3L345.4,540.0L345.1,538.9L345.2,537.6L346.0,532.2L346.4,531.3L347.1,529.1L347.3,526.8L346.8,524.1L346.7,520.3L346.3,517.4L344.2,508.7L336.7,514.6L334.2,516.8L331.4,517.9L329.5,519.2L327.8,520.8L326.6,522.8L325.9,525.0L325.8,527.3L325.9,528.5L324.4,532.8L323.6,536.0L322.5,538.2Z" fill="#69a224"/><path d="M334.7,536.5L332.7,535.9L330.8,534.8L329.3,533.3L328.1,531.6L327.3,529.5L327.0,527.4L327.2,525.2L327.9,523.2L328.9,521.3L330.4,519.7L332.2,518.5L334.2,517.7L336.3,517.3L338.4,517.5L340.4,518.2L342.2,519.2L343.8,520.7L345.0,522.5L345.7,524.5L346.0,526.7L345.8,528.8L345.2,530.9L344.1,532.8L342.7,534.4L340.9,535.6L338.9,536.4L336.8,536.7Z" fill="#82b636"/><path d="M333.0,551.0L330.7,550.6L328.5,549.7L326.6,548.4L325.1,546.8L324.0,544.8L323.4,542.7L323.3,540.6L323.7,538.4L324.7,536.4L326.1,534.7L327.8,533.3L329.9,532.3L332.2,531.8L334.5,531.7L336.8,532.1L339.0,533.0L340.9,534.3L342.4,536.0L343.5,537.9L344.1,540.0L344.2,542.2L343.8,544.3L342.8,546.3L341.4,548.0L339.7,549.4L337.6,550.4L335.3,551.0Z" fill="#82b636"/><path d="M335.1,565.4L332.8,565.4L330.7,564.8L328.7,563.9L326.9,562.5L325.6,560.7L324.7,558.8L324.2,556.6L324.3,554.5L324.9,552.4L325.9,550.4L327.4,548.8L329.2,547.4L331.2,546.5L333.4,546.1L335.7,546.2L337.9,546.7L339.9,547.7L341.6,549.1L342.9,550.8L343.9,552.8L344.3,554.9L344.2,557.1L343.7,559.2L342.6,561.1L341.2,562.8L339.4,564.1L337.3,565.0Z" fill="#82b636"/><path d="M337.5,579.8L335.4,579.8L333.2,579.4L331.3,578.5L329.6,577.2L328.2,575.5L327.2,573.6L326.7,571.5L326.6,569.3L327.1,567.2L328.0,565.2L329.3,563.5L330.9,562.1L332.8,561.1L334.9,560.6L337.1,560.5L339.2,561.0L341.1,561.9L342.9,563.2L344.2,564.9L345.2,566.8L345.7,568.9L345.8,571.1L345.4,573.2L344.5,575.2L343.2,576.9L341.5,578.3L339.6,579.3Z" fill="#82b636"/><path d="M337.4,520.1Q329.7,520.0 330.1,529.2" fill="none" stroke="#a6d552" stroke-width="3.2" stroke-linecap="round"/><path d="M333.8,534.4Q325.3,535.1 327.0,544.2" fill="none" stroke="#a6d552" stroke-width="3.6" stroke-linecap="round"/><path d="M333.2,548.9Q325.3,550.9 328.3,559.7" fill="none" stroke="#a6d552" stroke-width="3.4" stroke-linecap="round"/><path d="M334.8,563.3Q327.4,565.7 330.8,574.3" fill="none" stroke="#a6d552" stroke-width="3.3" stroke-linecap="round"/></g>
<g><path d="M358.8,504.6L357.0,508.0L354.0,512.9L352.1,516.8L351.5,517.4L350.3,519.3L349.6,521.5L349.3,523.7L349.7,525.9L350.5,528.0L350.9,528.6L351.2,531.0L352.1,534.9L352.0,536.9L352.4,539.1L353.4,541.1L354.2,542.0L355.9,546.2L357.5,549.0L357.6,550.1L358.5,552.2L359.8,554.0L361.5,555.4L362.9,556.1L365.6,559.3L366.1,561.0L367.1,562.9L368.6,564.6L370.4,565.9L372.2,566.7L374.6,568.6L376.7,569.8L377.6,570.1L379.4,570.5L385.3,570.8L386.4,563.4L386.6,560.9L386.4,559.7L385.7,556.9L385.6,555.6L385.1,553.5L384.1,551.5L382.2,549.5L379.5,544.7L379.3,543.2L378.4,541.1L377.1,539.3L376.4,538.7L376.2,538.3L374.8,534.8L374.8,533.5L374.4,531.3L373.4,529.3L372.6,528.4L370.8,523.2L370.8,522.4L370.5,520.2L369.7,518.2L368.2,516.2L366.4,512.1L365.3,510.0L364.1,508.0L363.0,506.6L361.8,505.8Z" fill="#4a8a16"/><path d="M350.4,523.7L350.6,525.7L351.9,528.4L352.2,530.9L353.0,534.7L353.0,536.8L353.4,538.8L354.3,540.5L355.1,541.5L356.8,545.8L358.4,548.6L358.6,549.8L359.3,551.7L360.5,553.3L362.1,554.5L363.3,555.1L363.7,555.4L366.5,558.8L367.1,560.6L368.0,562.4L369.3,563.9L370.9,565.1L372.8,565.9L375.1,567.8L377.0,568.9L377.8,569.2L379.5,569.5L384.4,569.7L385.5,563.2L385.6,560.9L385.5,559.8L384.7,557.0L384.6,555.8L384.1,553.8L383.2,552.1L381.4,550.0L378.6,545.2L378.3,543.4L377.5,541.6L376.4,540.0L375.7,539.4L375.4,539.0L373.8,535.1L373.8,533.6L373.4,531.7L372.5,529.9L371.7,528.8L369.9,523.5L369.5,520.5L368.8,518.7L367.3,516.7L365.5,512.5L364.4,510.4L363.3,508.5L362.6,507.6L362.1,507.1L361.3,506.7L359.3,505.9L357.9,508.5L354.9,513.4L352.9,517.3L352.3,518.0L351.2,519.8L350.5,521.7Z" fill="#69a224"/><path d="M362.3,531.3L360.5,531.6L358.6,531.5L356.7,530.9L355.1,530.0L353.7,528.7L352.6,527.1L351.9,525.3L351.6,523.4L351.7,521.5L352.3,519.7L353.2,518.0L354.5,516.6L356.1,515.6L357.8,514.8L359.7,514.6L361.6,514.7L363.5,515.3L365.1,516.2L366.5,517.5L367.6,519.1L368.3,520.9L368.6,522.7L368.5,524.7L367.9,526.5L367.0,528.1L365.7,529.5L364.1,530.6Z" fill="#82b636"/><path d="M366.3,543.3L364.2,543.8L362.2,543.8L360.1,543.5L358.3,542.7L356.7,541.5L355.5,540.0L354.6,538.3L354.2,536.5L354.2,534.5L354.7,532.6L355.7,530.9L357.0,529.3L358.7,528.1L360.5,527.2L362.6,526.7L364.6,526.6L366.7,527.0L368.5,527.7L370.1,528.9L371.3,530.4L372.2,532.1L372.6,534.0L372.6,535.9L372.1,537.8L371.1,539.6L369.8,541.1L368.1,542.4Z" fill="#82b636"/><path d="M372.6,554.1L370.7,554.9L368.7,555.3L366.7,555.2L364.8,554.7L363.1,553.9L361.6,552.6L360.5,551.1L359.7,549.3L359.5,547.4L359.6,545.4L360.2,543.5L361.3,541.8L362.6,540.3L364.3,539.2L366.2,538.4L368.2,538.0L370.2,538.0L372.1,538.5L373.8,539.4L375.3,540.7L376.4,542.2L377.1,544.0L377.4,545.9L377.3,547.8L376.7,549.7L375.6,551.4L374.3,552.9Z" fill="#82b636"/><path d="M380.4,564.3L378.8,565.1L377.1,565.5L375.3,565.5L373.5,565.1L371.8,564.3L370.3,563.1L369.0,561.6L368.1,560.0L367.6,558.1L367.5,556.3L367.8,554.4L368.4,552.8L369.5,551.3L370.8,550.1L372.4,549.3L374.1,548.9L375.9,548.9L377.7,549.3L379.4,550.1L380.9,551.3L382.2,552.8L383.1,554.5L383.6,556.3L383.7,558.2L383.4,560.0L382.8,561.7L381.7,563.1Z" fill="#82b636"/><path d="M358.1,517.3Q351.8,520.2 355.8,527.4" fill="none" stroke="#a6d552" stroke-width="2.9" stroke-linecap="round"/><path d="M360.9,529.6Q354.3,533.2 358.9,540.0" fill="none" stroke="#a6d552" stroke-width="3.2" stroke-linecap="round"/><path d="M365.1,541.5Q359.3,546.0 364.9,552.0" fill="none" stroke="#a6d552" stroke-width="3.1" stroke-linecap="round"/><path d="M371.8,552.3Q367.2,556.9 373.2,562.4" fill="none" stroke="#a6d552" stroke-width="2.7" stroke-linecap="round"/></g>
<g><path d="M265.0,683.2C266.5,673.1 267.4,663.0 269.4,653.0C271.7,641.2 272.8,628.8 278.0,618.0C282.2,609.3 288.5,601.1 296.7,596.0C304.6,591.1 314.5,589.0 323.8,589.6C331.4,590.1 339.1,593.7 344.6,599.0C349.3,603.5 349.1,611.2 352.2,616.9C355.3,622.5 360.4,626.8 363.2,632.5C365.7,637.6 368.4,643.4 367.6,649.0C366.8,654.7 363.5,660.3 359.0,663.8C353.1,668.4 345.4,670.5 338.0,672.0C327.8,674.0 317.3,672.9 307.0,674.2C299.2,675.2 291.7,677.4 284.0,679.0C277.7,680.4 271.3,681.8 265.0,683.2Z" fill="#46870a"/><path d="M267.6,675.7L267.8,676.4L268.5,676.6L297.2,670.2L305.2,668.8L313.2,668.2L328.7,667.6L336.0,666.7L343.1,665.0L348.2,663.2L352.9,660.9L355.6,659.1L357.5,657.4L359.1,655.5L360.6,653.4L361.7,651.1L362.5,648.8L363.1,645.2L363.0,643.0L362.5,640.5L361.2,636.8L358.3,630.4L355.9,626.9L349.9,619.3L347.9,616.1L346.4,612.7L343.6,603.3L342.4,600.9L340.9,599.0L338.3,596.8L335.4,594.9L332.2,593.2L328.9,591.9L323.8,590.8L320.0,590.5L316.3,590.6L312.2,591.2L307.7,592.2L303.3,593.7L301.2,594.6L297.2,596.8L295.2,598.1L291.5,601.0L288.1,604.4L285.0,608.1L281.2,613.9L278.4,619.7L276.5,625.1L274.4,633.6L270.7,653.9L269.5,661.3Z" fill="#65971a"/><path d="M282.3,663.8L281.9,664.9L282.1,666.3L283.0,667.1L284.3,667.5L296.1,664.9L304.3,663.5L310.1,662.9L325.7,662.4L330.4,662.0L336.5,661.0L343.1,659.3L347.6,657.6L350.3,656.2L353.1,654.2L355.1,652.0L357.0,648.7L357.9,645.9L358.1,644.6L358.0,643.1L357.4,640.2L355.6,635.7L353.3,631.3L351.0,628.1L346.1,621.9L345.6,621.5L344.3,621.1L335.1,621.3L329.9,621.9L327.2,622.5L322.0,624.4L319.3,625.7L313.9,628.7L308.7,632.3L301.3,638.3L296.9,642.6L293.2,647.2L289.6,652.4ZM275.3,653.5L275.5,654.9L276.4,656.0L277.7,656.4L278.4,656.2L279.2,655.8L287.7,643.3L292.0,637.9L296.8,633.3L301.9,628.9L307.4,624.8L310.3,622.9L316.2,619.6L319.3,618.1L322.5,616.8L325.4,615.9L331.5,614.8L338.9,614.4L340.2,613.8L340.9,612.7L341.0,611.5L338.9,604.5L337.7,602.2L336.3,601.0L334.0,599.2L331.4,597.6L328.7,596.4L324.3,595.1L319.7,594.7L315.7,594.9L311.9,595.3L306.2,596.8L300.9,599.1L296.1,602.3L291.8,606.3L287.9,611.3L284.6,616.7L282.6,621.0L280.9,625.9L279.5,631.2Z" fill="#86b034"/><path d="M352.0,617.4C342.6,618.3 332.6,616.7 323.8,620.0C313.6,623.8 304.5,630.5 296.7,638.0C289.0,645.4 284.1,655.3 278.0,664.0C273.6,670.3 269.3,676.8 265.0,683.2" fill="none" stroke="#44890f" stroke-width="2.4" stroke-linecap="round"/><path d="M280,628Q282.5,620 287.4,613.4" fill="none" stroke="#a6cb52" stroke-width="1.6" stroke-linecap="round"/><path d="M300.5,650Q313,639 327,633" fill="none" stroke="#a6cb52" stroke-width="1.6" stroke-linecap="round"/></g>
<path d="M438.0,678.8L446.5,676.5L455.4,675.2L465.9,674.9L478.6,675.5L479.4,669.5L468.9,667.1L462.1,666.0L454.5,666.5L448.9,667.4L447.0,667.9L443.8,669.3L436.0,674.2Z" fill="#4c8c2c"/><g><path d="M425.4,643.5C425.0,638.8 425.0,633.1 428.2,629.6C434.9,622.2 443.7,616.3 453.0,612.8C464.3,608.5 476.7,607.1 488.8,606.6C499.2,606.1 509.9,606.9 520.0,609.8C528.5,612.2 535.5,618.1 543.3,622.3C537.0,628.2 530.5,633.8 524.5,640.0C518.5,646.2 515.4,656.0 507.5,659.5C498.5,663.6 487.8,660.8 478.0,661.0C467.7,661.2 457.2,661.9 447.0,660.5C441.2,659.7 435.1,658.1 430.5,654.5C427.3,652.0 425.8,647.5 425.4,643.5Z" fill="#3f7f10"/><path d="M427.3,641.9L427.9,644.5L428.8,646.8L429.6,648.2L431.1,649.8L433.2,651.2L436.6,652.9L439.2,653.7L443.3,654.7L451.0,655.6L458.5,655.9L479.1,655.6L494.1,656.3L498.6,656.1L500.8,655.7L504.8,654.4L506.3,653.5L508.9,651.4L511.5,648.4L516.4,641.1L519.3,637.3L525.4,631.0L535.8,621.4L536.0,620.6L535.6,620.2L528.9,615.9L525.2,613.8L521.5,612.0L519.6,611.3L515.3,610.0L507.9,608.5L500.3,607.7L490.0,607.5L479.7,608.1L473.7,608.8L467.7,609.7L459.0,611.8L451.0,614.6L446.5,616.7L442.2,619.1L436.1,623.4L432.3,626.7L428.9,630.2L428.1,631.2L427.4,633.4L427.1,635.4L427.0,638.7Z" fill="#59921c"/><path d="M445.6,645.3L444.7,646.1L444.4,647.2L444.6,648.4L445.1,649.2L446.4,649.8L451.1,650.3L460.8,650.5L478.9,650.2L493.8,650.9L497.7,650.7L501.0,650.0L503.6,648.8L505.3,647.4L506.4,646.2L515.2,633.9L517.2,631.6L522.5,626.3L522.9,625.2L522.8,624.3L522.0,623.1L521.0,622.6L516.6,622.3L513.3,622.2L510.2,622.4L502.4,623.4L498.4,624.1L490.5,625.9L478.8,629.4L467.4,633.7L459.8,637.4ZM431.9,641.2L432.3,642.3L433.1,643.1L434.2,643.5L435.3,643.3L452.9,633.3L460.6,629.4L464.6,627.5L472.7,624.3L484.7,620.5L492.9,618.3L501.4,616.6L502.2,616.1L502.8,615.3L503.0,614.4L502.8,613.5L502.1,612.5L501.2,612.1L497.3,611.8L489.9,611.7L478.8,612.4L470.3,613.4L464.7,614.4L459.3,615.8L454.2,617.5L448.2,620.2L442.5,623.6L437.2,627.6L434.0,630.6L432.4,632.4L431.9,633.9L431.6,637.1Z" fill="#78a82e"/><path d="M432.0,649.0C444.7,642.3 456.6,634.1 470.0,629.0C482.8,624.1 496.3,620.3 510.0,619.0C521.1,618.0 532.2,621.2 543.3,622.3" fill="none" stroke="#3c7a10" stroke-width="2.4" stroke-linecap="round"/><path d="M434.5,640.6Q436,636 439.6,632.4" fill="none" stroke="#98c048" stroke-width="1.3" stroke-linecap="round"/></g>
<g><path d="M440.0,697.5C440.3,692.4 440.2,686.9 442.8,682.5C444.8,679.0 449.8,678.3 452.8,675.6C456.8,672.0 459.4,666.9 463.5,663.5C468.0,659.7 472.7,654.9 478.5,654.2C485.6,653.3 493.4,655.4 499.5,659.2C507.8,664.3 514.3,672.1 520.0,680.0C525.5,687.6 530.6,695.9 532.6,705.0C534.7,714.4 533.1,724.4 531.8,734.0C530.9,740.9 527.9,747.5 526.0,754.2C522.0,748.8 518.9,742.5 514.0,738.0C509.8,734.1 504.6,730.8 499.0,729.4C492.2,727.7 484.9,730.1 478.0,729.2C469.6,728.1 460.7,727.5 453.2,723.6C447.8,720.8 443.9,715.4 441.2,710.0C439.3,706.3 439.8,701.7 440.0,697.5Z" fill="#46870a"/><path d="M441.7,696.5L441.7,702.5L442.1,704.9L442.7,706.4L444.8,710.1L447.3,713.5L450.1,716.4L453.3,718.6L456.8,720.1L460.5,721.3L468.6,722.8L477.0,723.8L480.1,724.0L490.5,723.4L494.3,723.5L498.2,724.1L501.4,725.0L504.4,726.3L507.2,727.8L512.5,731.4L514.8,733.5L517.4,736.2L519.6,739.0L522.8,743.5L523.5,743.7L524.0,743.3L525.8,737.7L527.0,733.0L528.2,724.2L528.9,717.1L529.0,712.4L528.8,707.9L528.1,703.5L526.9,699.3L524.4,693.2L521.1,687.3L517.3,681.5L511.7,674.0L507.0,668.6L503.6,665.3L500.1,662.3L495.0,658.9L492.0,657.4L487.2,655.9L484.0,655.3L480.7,655.0L478.6,655.1L475.9,655.7L473.5,656.9L471.0,658.4L467.5,661.2L462.2,665.9L456.2,673.2L453.4,676.3L451.6,677.6L446.1,680.5L444.0,682.3L443.3,683.7L442.5,686.8L442.1,690.4Z" fill="#65971a"/><path d="M473.3,661.6L472.6,662.5L472.4,663.4L472.6,664.6L473.2,665.3L484.6,672.0L489.7,675.4L496.8,681.4L503.3,687.9L509.3,695.0L512.9,700.2L515.8,705.4L519.7,714.2L520.4,714.8L521.3,715.1L522.2,715.0L523.2,714.4L523.8,713.7L524.0,712.7L523.9,709.7L523.5,705.9L522.7,702.0L520.7,696.5L517.9,691.0L513.2,683.7L507.7,676.4L503.3,671.3L498.7,666.9L495.3,664.3L491.3,661.9L487.3,660.3L483.1,659.4L480.5,659.2L478.1,659.3L476.0,659.9ZM446.9,688.1L446.2,700.7L446.5,702.9L447.4,704.8L449.3,707.9L451.4,710.6L453.1,712.2L455.2,713.7L458.2,715.0L461.5,716.0L465.2,716.8L478.5,718.6L481.4,718.6L490.4,718.0L494.3,718.1L496.6,718.3L500.9,719.3L504.4,720.5L507.8,722.1L511.9,724.5L512.6,724.6L513.5,724.4L514.3,723.9L514.8,723.1L515.0,721.7L512.9,715.8L510.8,710.8L508.5,706.1L507.1,703.8L503.9,699.2L498.4,692.6L492.2,686.4L485.6,680.9L478.6,676.3L466.5,669.4L465.3,669.3L464.1,670.0L459.1,676.1L455.5,679.6L452.7,681.5L448.7,683.5L448.0,684.1L447.4,685.5Z" fill="#86b034"/><path d="M465.0,664.5C473.3,669.7 482.5,673.7 490.0,680.0C497.6,686.3 504.7,693.6 510.0,702.0C515.0,709.9 517.8,719.1 520.5,728.0C523.1,736.5 524.2,745.5 526.0,754.2" fill="none" stroke="#44890f" stroke-width="2.4" stroke-linecap="round"/></g>
<path d="M454.4,659 C457.5,664 460.4,670 461.6,678" fill="none" stroke="#3b7a2a" stroke-width="2.4" stroke-linecap="round"/><path d="M455.6,660.6 C464,664.6 473,669.6 479.6,676" fill="none" stroke="#3b7a2a" stroke-width="2.6" stroke-linecap="round"/><g><path d="M457.6,749.4L460.7,746.4L464.0,743.4L466.1,743.0L468.2,742.1L470.0,740.8L471.5,739.1L472.5,737.1L473.0,735.0L473.1,732.7L474.3,730.1L475.2,727.9L476.7,725.8L477.5,723.7L477.8,721.5L477.5,719.3L478.4,712.9L479.1,711.1L479.3,708.9L479.1,706.6L478.4,704.9L477.6,698.8L477.9,697.4L477.9,695.2L477.4,693.0L476.4,691.0L475.5,690.0L474.0,686.0L472.7,683.6L471.1,681.4L470.2,680.4L469.5,679.9L468.8,679.5L467.1,679.0L461.6,678.4L459.1,687.5L458.1,691.7L457.3,693.2L456.8,695.3L456.8,697.5L457.3,699.7L457.5,700.2L458.6,706.3L458.2,708.9L458.5,711.1L459.5,713.6L459.4,714.9L458.2,716.8L457.4,718.9L457.2,721.1L457.2,722.3L455.2,726.7L454.2,727.9L453.2,729.8L452.7,732.0L452.7,734.2L453.8,738.7L454.7,741.8L456.6,746.3Z" fill="#4a8a16"/><path d="M453.7,734.1L455.2,739.9L458.1,747.5L463.5,742.6L464.0,742.4L465.8,742.0L467.7,741.2L469.3,740.1L470.6,738.5L471.5,736.8L472.0,734.8L472.1,732.4L473.4,729.7L474.3,727.5L475.8,725.3L476.5,723.5L476.7,721.5L476.5,719.2L477.4,712.7L478.1,710.8L478.3,708.9L478.1,706.9L477.4,705.1L476.6,698.9L476.9,697.3L476.9,695.3L476.4,693.3L475.5,691.6L474.6,690.4L473.1,686.4L471.9,684.1L470.4,682.0L469.5,681.1L469.0,680.7L467.7,680.2L466.1,679.9L462.3,679.6L460.1,687.8L459.1,691.9L458.3,693.5L457.8,695.5L457.8,697.4L458.5,699.9L459.5,706.1L459.2,708.9L459.4,710.9L460.5,713.4L460.4,715.0L460.2,715.5L459.1,717.3L458.4,719.1L458.2,721.1L458.3,722.2L458.2,722.7L456.1,727.2L455.1,728.4L454.2,730.2L453.7,732.1Z" fill="#69a224"/><path d="M468.3,704.8L466.4,704.8L464.6,704.4L462.9,703.6L461.5,702.4L460.3,700.9L459.5,699.1L459.1,697.3L459.1,695.4L459.5,693.5L460.3,691.8L461.4,690.3L462.9,689.1L464.6,688.3L466.4,687.9L468.3,687.9L470.1,688.3L471.8,689.1L473.2,690.3L474.4,691.8L475.2,693.6L475.6,695.4L475.6,697.3L475.2,699.2L474.4,700.9L473.3,702.4L471.8,703.6L470.1,704.4Z" fill="#82b636"/><path d="M468.8,717.4L467.0,717.2L465.2,716.6L463.6,715.6L462.3,714.2L461.3,712.6L460.7,710.8L460.5,708.9L460.7,707.0L461.3,705.2L462.3,703.6L463.6,702.3L465.1,701.2L466.9,700.6L468.7,700.4L470.6,700.6L472.3,701.2L473.9,702.2L475.2,703.6L476.2,705.2L476.8,707.0L477.0,708.9L476.8,710.8L476.2,712.6L475.3,714.2L473.9,715.5L472.4,716.6L470.6,717.2Z" fill="#82b636"/><path d="M465.5,729.6L463.8,729.0L462.3,727.9L461.1,726.6L460.1,725.0L459.6,723.2L459.4,721.3L459.7,719.4L460.3,717.6L461.3,716.0L462.6,714.7L464.2,713.6L465.9,713.0L467.7,712.8L469.5,713.0L471.1,713.6L472.6,714.6L473.9,716.0L474.8,717.6L475.3,719.4L475.5,721.3L475.3,723.2L474.6,725.0L473.6,726.6L472.3,727.9L470.8,728.9L469.1,729.6L467.3,729.8Z" fill="#82b636"/><path d="M459.8,741.5L458.3,740.6L456.9,739.5L455.8,738.0L455.1,736.3L454.8,734.4L454.9,732.5L455.4,730.7L456.2,729.0L457.4,727.5L458.9,726.3L460.5,725.5L462.3,725.1L464.1,725.1L465.9,725.5L467.5,726.3L468.8,727.5L469.9,729.0L470.6,730.7L470.9,732.6L470.8,734.5L470.3,736.3L469.5,738.0L468.3,739.5L466.8,740.7L465.2,741.5L463.4,741.9L461.6,741.9Z" fill="#82b636"/><path d="M467.1,690.2Q473.8,690.6 472.8,698.7" fill="none" stroke="#a6d552" stroke-width="2.8" stroke-linecap="round"/><path d="M469.1,702.7Q475.8,703.9 473.9,711.8" fill="none" stroke="#a6d552" stroke-width="2.8" stroke-linecap="round"/><path d="M469.3,715.4Q475.2,718.1 471.6,725.3" fill="none" stroke="#a6d552" stroke-width="2.7" stroke-linecap="round"/><path d="M465.4,727.9Q471.0,731.3 466.4,738.0" fill="none" stroke="#a6d552" stroke-width="2.7" stroke-linecap="round"/></g>
<g><path d="M480.2,675.6L479.0,684.3L479.0,686.8L479.7,689.8L480.3,691.5L481.4,694.0L481.5,695.5L482.3,697.9L483.6,700.0L485.2,701.8L486.5,705.0L486.8,706.0L486.7,707.8L487.2,710.3L488.6,712.9L489.9,719.1L489.8,720.1L490.0,722.6L490.7,725.0L491.8,726.7L492.8,730.0L494.5,734.5L494.6,736.0L495.2,738.5L496.2,740.7L497.7,742.7L498.3,743.2L503.4,754.4L509.0,744.8L510.2,744.0L511.8,742.5L513.1,740.5L514.0,738.2L514.4,735.7L514.3,733.2L513.6,730.3L513.9,727.8L514.1,723.8L514.5,722.9L515.0,720.4L514.8,717.9L514.0,715.5L513.5,714.5L512.8,711.1L511.3,705.9L511.3,704.7L510.8,702.2L509.7,699.9L508.3,698.3L506.8,695.1L504.7,691.4L504.6,690.5L503.8,688.1L502.5,686.0L500.8,684.2L498.6,682.8L497.6,682.4L495.4,680.4L493.5,679.1L491.4,677.9L489.2,676.9L487.0,676.0L485.7,675.7L484.3,675.6Z" fill="#4a8a16"/><path d="M479.9,685.5L480.2,687.8L480.6,689.5L481.2,691.2L482.3,693.7L482.5,695.3L483.2,697.5L484.4,699.4L486.1,701.2L487.5,704.7L487.8,705.8L487.7,707.7L488.2,710.0L489.6,712.6L490.9,718.9L490.8,720.1L490.9,722.4L491.7,724.6L492.7,726.3L493.7,729.7L495.4,734.2L495.6,735.9L496.1,738.1L497.1,740.2L499.1,742.7L503.5,752.1L508.2,744.1L509.6,743.2L511.1,741.8L512.3,740.0L513.0,737.9L513.4,735.7L513.3,733.3L512.6,730.3L512.9,727.7L513.2,723.6L513.6,722.6L514.0,720.3L513.8,718.0L513.1,715.9L512.5,714.7L511.8,711.3L510.3,706.0L510.3,704.7L509.9,702.5L508.9,700.5L507.4,698.7L505.9,695.5L503.8,691.9L503.6,690.7L502.9,688.5L501.7,686.6L500.1,684.9L498.2,683.7L497.1,683.3L494.8,681.2L492.0,679.3L488.8,677.8L486.1,676.8L484.3,676.6L481.1,676.6L480.1,683.2Z" fill="#69a224"/><path d="M497.0,701.8L495.0,702.5L492.9,702.7L490.7,702.4L488.7,701.6L486.9,700.4L485.5,698.8L484.4,696.9L483.7,694.9L483.5,692.7L483.8,690.6L484.5,688.6L485.7,686.8L487.2,685.3L489.1,684.2L491.1,683.5L493.2,683.4L495.4,683.7L497.4,684.4L499.2,685.6L500.6,687.2L501.7,689.1L502.4,691.1L502.6,693.3L502.3,695.4L501.6,697.5L500.4,699.3L498.9,700.7Z" fill="#82b636"/><path d="M502.2,715.4L500.0,715.9L497.7,715.9L495.5,715.5L493.5,714.5L491.7,713.2L490.4,711.5L489.4,709.5L489.0,707.4L489.0,705.2L489.6,703.1L490.6,701.1L492.0,699.4L493.8,698.0L495.9,697.1L498.1,696.6L500.4,696.6L502.6,697.0L504.6,697.9L506.3,699.3L507.7,701.0L508.6,702.9L509.1,705.1L509.0,707.2L508.5,709.4L507.5,711.3L506.0,713.1L504.2,714.4Z" fill="#82b636"/><path d="M504.2,729.7L501.9,729.9L499.6,729.6L497.5,728.9L495.6,727.7L494.0,726.1L492.9,724.2L492.2,722.2L492.1,720.0L492.4,717.9L493.3,715.8L494.6,714.0L496.3,712.5L498.4,711.4L500.6,710.7L502.9,710.5L505.2,710.8L507.3,711.6L509.2,712.8L510.8,714.4L511.9,716.2L512.6,718.3L512.7,720.5L512.4,722.6L511.5,724.6L510.2,726.5L508.4,728.0L506.4,729.1Z" fill="#82b636"/><path d="M505.8,744.2L504.1,744.2L502.4,743.7L500.8,742.8L499.4,741.4L498.2,739.7L497.3,737.8L496.8,735.7L496.7,733.5L497.0,731.4L497.7,729.5L498.6,727.8L499.9,726.4L501.4,725.5L503.1,725.0L504.8,725.0L506.5,725.5L508.1,726.4L509.5,727.8L510.7,729.5L511.5,731.4L512.0,733.5L512.1,735.7L511.9,737.8L511.2,739.7L510.2,741.4L509.0,742.8L507.5,743.7Z" fill="#82b636"/><path d="M490.6,686.4Q498.1,684.5 499.8,693.7" fill="none" stroke="#a6d552" stroke-width="3.2" stroke-linecap="round"/><path d="M497.2,699.5Q505.4,698.1 506.1,707.4" fill="none" stroke="#a6d552" stroke-width="3.5" stroke-linecap="round"/><path d="M501.6,713.3Q510.0,713.0 509.3,722.3" fill="none" stroke="#a6d552" stroke-width="3.5" stroke-linecap="round"/><path d="M503.8,727.6Q510.1,728.1 509.6,737.3" fill="none" stroke="#a6d552" stroke-width="2.6" stroke-linecap="round"/></g>
<g id="budleaves"><path d="M382.0,257.6C381.5,260.4 380.6,263.2 380.6,266.0C380.6,269.2 380.5,272.6 381.8,275.5C383.2,278.5 385.6,281.4 388.5,283.0C391.0,284.4 394.7,285.8 397.2,284.2C399.2,282.9 398.2,279.4 397.8,277.0C397.3,274.3 396.0,271.8 394.5,269.5C392.8,266.9 390.7,264.6 388.5,262.5C386.5,260.6 384.2,259.2 382.0,257.6Z" fill="#4f9a14"/><path d="M383.2,260.5L382.3,265.3L382.4,270.7L383.0,274.0L384.2,276.4L385.9,278.6L387.2,280.0L390.1,281.9L392.4,282.9L394.0,283.2L395.3,283.1L396.2,282.8L396.6,282.1L396.7,281.1L396.1,277.3L395.3,274.5L393.9,271.8L392.1,269.0L389.2,265.6L386.2,262.7Z" fill="#8ebd2a"/><path d="M384.6,264.7L384.1,264.5L383.7,264.8L383.6,267.9L383.8,271.4L384.5,274.3L386.3,277.1L388.0,279.0L390.6,280.7L392.6,281.5L393.0,281.5L393.2,281.2L393.2,280.8L386.9,268.6Z" fill="#c2d648"/><path d="M404.7,262.7C402.8,264.6 400.5,266.2 399.0,268.5C397.5,270.8 396.0,273.3 395.8,276.0C395.6,278.5 396.1,281.6 398.0,283.2C399.7,284.7 402.7,284.8 404.8,283.8C406.8,282.9 408.0,280.5 408.4,278.3C408.9,275.4 408.2,272.4 407.5,269.5C406.9,267.1 405.6,265.0 404.7,262.7Z" fill="#4f9a14"/><path d="M404.1,265.6L401.8,267.8L400.4,269.5L398.4,272.8L397.6,275.5L397.5,278.2L398.2,280.7L399.1,281.9L399.9,282.4L400.8,282.7L403.1,282.6L404.1,282.3L404.8,281.8L406.0,280.1L406.7,278.0L406.9,275.7L406.4,272.5L405.5,268.7Z" fill="#8ebd2a"/><path d="M402.7,280.6L402.9,281.0L403.2,281.2L404.1,280.6L404.9,279.5L405.5,277.7L405.6,276.4L405.4,274.3L404.8,271.2L404.4,270.8L403.9,271.1L403.6,272.2ZM399.3,279.9L399.8,280.2L400.2,279.8L400.9,272.9L400.5,272.4L399.9,272.7L398.9,275.6L398.8,278.0Z" fill="#c2d648"/></g>
<g id="fl1"><path d="M409.5,298 C411,292 414,289 422.5,284.5" fill="none" stroke="#4f9a22" stroke-width="2.2" stroke-linecap="round"/><path d="M410,292 C408,284 409,277 413,272" fill="none" stroke="#4f9a22" stroke-width="1.8" stroke-linecap="round"/><path d="M410,296 C415,293 420,295 424,294" fill="none" stroke="#4f9a22" stroke-width="1.6" stroke-linecap="round"/><ellipse cx="413.5" cy="273.5" rx="2.6" ry="3.6" transform="rotate(25 413.5 273.5)" fill="#86b62c" stroke="#4f9a1c" stroke-width="1"/><ellipse cx="409.3" cy="282.5" rx="2.2" ry="3.6" transform="rotate(10 409.3 282.5)" fill="#86b62c" stroke="#4f9a1c" stroke-width="1"/><ellipse cx="417.5" cy="270.6" rx="2.4" ry="2.2" transform="rotate(0 417.5 270.6)" fill="#86b62c" stroke="#4f9a1c" stroke-width="1"/><ellipse cx="410.4" cy="297.6" rx="2.6" ry="2.0" transform="rotate(-30 410.4 297.6)" fill="#86b62c" stroke="#4f9a1c" stroke-width="1"/><ellipse cx="420.5" cy="294.8" rx="3.6" ry="1.5" transform="rotate(8 420.5 294.8)" fill="#86b62c" stroke="#4f9a1c" stroke-width="1"/><path d="M437.5,270.5 C440,262 445.5,256.5 453,257 C460.5,257.5 464.5,263.5 464,270 C469,270 471.5,274.5 470.5,278.5 C469.5,283.5 462,285.5 455,284 C448,282.5 443,278.5 438.5,275.5 Z" fill="#f1f1f1" stroke="#c4dab2" stroke-width="1.6" stroke-linejoin="round"/><path d="M441,270 C444,262.5 448.5,259.5 453.5,260 C459,260.5 461.5,265 461,270 C455,273 447,273 441,270 Z" fill="#dedede"/><path d="M444,272.8 C452,272 459,271.6 464,270.5" fill="none" stroke="#c9d9b8" stroke-width="1"/><path d="M441.5,272.6 L447,273.3 M449.5,275 L453.5,273.3" stroke="#e3e36a" stroke-width="1.3" stroke-linecap="round"/><path d="M444.4,248.8C439.6,249.6 434.6,249.6 430.0,251.3C425.8,252.9 421.7,255.3 418.6,258.6C416.7,260.6 415.3,263.8 415.8,266.5C416.4,269.6 418.7,272.6 421.5,274.2C424.4,275.9 428.5,277.1 431.5,275.6C435.0,273.9 436.4,269.4 438.2,266.0C439.9,262.9 440.8,259.4 442.0,256.0C442.9,253.6 443.6,251.2 444.4,248.8Z" fill="#4f9a14"/><path d="M441.6,251.1L434.6,252.0L430.7,253.1L426.0,255.3L423.8,256.6L421.8,258.2L420.0,259.9L419.1,261.0L418.1,263.0L417.7,264.3L417.7,266.2L418.1,267.6L418.9,269.1L419.9,270.4L421.1,271.6L422.5,272.6L425.0,273.7L426.8,274.2L428.5,274.4L430.0,274.1L431.4,273.5L432.0,272.9L433.8,270.5L437.4,263.3Z" fill="#8ebd2a"/><path d="M426.9,271.7L426.9,272.2L427.2,272.5L429.0,272.6L430.4,272.1L431.4,271.1L432.9,268.7L435.8,262.6L437.1,259.1L436.9,258.5L436.2,258.5L433.3,261.1ZM435.3,254.8L435.4,254.1L434.8,253.7L432.4,254.3L429.0,255.6L424.8,258.0L422.9,259.5L420.9,261.5L419.7,263.6L419.4,264.6L419.3,265.8L419.7,267.0L420.3,268.2L422.2,270.3L422.9,270.8L423.5,270.6L430.6,259.0Z" fill="#c6d84c"/><path d="M444,249.2 Q431,259 423.5,274" fill="none" stroke="#4f9a14" stroke-width="1.7"/><path d="M425.2,281.5 C426,276.5 429.5,273.6 434,273.8 C437,272.4 440,272.6 442,273.4 L444.5,277.5 L449.6,279.5 C447.5,285.5 441,289.2 434,289.2 C430,288.2 426.6,285.6 425.2,281.5 Z" fill="#cfe05e" stroke="#9cc63c" stroke-width=".8"/><path d="M436.2,270.8 C436.4,266.5 439,263.6 442.6,263.8 C443.4,267 441.8,270.6 438.4,272.4 Z" fill="#86bd3a" stroke="#a9d46c" stroke-width=".9"/><path d="M440,285 C445,282.5 451,283.5 454,288.5 C456,292.5 453.5,296.8 449.5,296.2 C447.5,292 444,289.5 440,289.5 Z" fill="#b2d24e" stroke="#86c04a" stroke-width="1.1"/><path d="M443,288.3 C447,288 450,290.5 451.5,294.5" fill="none" stroke="#8dbb3c" stroke-width="1.6"/><ellipse cx="431.6" cy="286.4" rx="6.9" ry="4.9" transform="rotate(18 431.6 286.4)" fill="#3f8c12"/><ellipse cx="431.3" cy="285.9" rx="5.2" ry="3.4" transform="rotate(18 431.3 285.9)" fill="#7fb526"/><path d="M435.5,279.5 C438,282 440.5,282.5 443,281.2" fill="none" stroke="#f0f08a" stroke-width="1.2" stroke-linecap="round"/></g>
<g id="fl2" transform="translate(735.4,159.8) scale(-1,1)"><path d="M409.5,298 C411,292 414,289 422.5,284.5" fill="none" stroke="#4f9a22" stroke-width="2.2" stroke-linecap="round"/><path d="M410,292 C408,284 409,277 413,272" fill="none" stroke="#4f9a22" stroke-width="1.8" stroke-linecap="round"/><path d="M410,296 C415,293 420,295 424,294" fill="none" stroke="#4f9a22" stroke-width="1.6" stroke-linecap="round"/><ellipse cx="413.5" cy="273.5" rx="2.6" ry="3.6" transform="rotate(25 413.5 273.5)" fill="#86b62c" stroke="#4f9a1c" stroke-width="1"/><ellipse cx="409.3" cy="282.5" rx="2.2" ry="3.6" transform="rotate(10 409.3 282.5)" fill="#86b62c" stroke="#4f9a1c" stroke-width="1"/><ellipse cx="417.5" cy="270.6" rx="2.4" ry="2.2" transform="rotate(0 417.5 270.6)" fill="#86b62c" stroke="#4f9a1c" stroke-width="1"/><ellipse cx="410.4" cy="297.6" rx="2.6" ry="2.0" transform="rotate(-30 410.4 297.6)" fill="#86b62c" stroke="#4f9a1c" stroke-width="1"/><ellipse cx="420.5" cy="294.8" rx="3.6" ry="1.5" transform="rotate(8 420.5 294.8)" fill="#86b62c" stroke="#4f9a1c" stroke-width="1"/><path d="M437.5,270.5 C440,262 445.5,256.5 453,257 C460.5,257.5 464.5,263.5 464,270 C469,270 471.5,274.5 470.5,278.5 C469.5,283.5 462,285.5 455,284 C448,282.5 443,278.5 438.5,275.5 Z" fill="#f1f1f1" stroke="#c4dab2" stroke-width="1.6" stroke-linejoin="round"/><path d="M441,270 C444,262.5 448.5,259.5 453.5,260 C459,260.5 461.5,265 461,270 C455,273 447,273 441,270 Z" fill="#dedede"/><path d="M444,272.8 C452,272 459,271.6 464,270.5" fill="none" stroke="#c9d9b8" stroke-width="1"/><path d="M441.5,272.6 L447,273.3 M449.5,275 L453.5,273.3" stroke="#e3e36a" stroke-width="1.3" stroke-linecap="round"/><path d="M444.4,248.8C439.6,249.6 434.6,249.6 430.0,251.3C425.8,252.9 421.7,255.3 418.6,258.6C416.7,260.6 415.3,263.8 415.8,266.5C416.4,269.6 418.7,272.6 421.5,274.2C424.4,275.9 428.5,277.1 431.5,275.6C435.0,273.9 436.4,269.4 438.2,266.0C439.9,262.9 440.8,259.4 442.0,256.0C442.9,253.6 443.6,251.2 444.4,248.8Z" fill="#4f9a14"/><path d="M441.6,251.1L434.6,252.0L430.7,253.1L426.0,255.3L423.8,256.6L421.8,258.2L420.0,259.9L419.1,261.0L418.1,263.0L417.7,264.3L417.7,266.2L418.1,267.6L418.9,269.1L419.9,270.4L421.1,271.6L422.5,272.6L425.0,273.7L426.8,274.2L428.5,274.4L430.0,274.1L431.4,273.5L432.0,272.9L433.8,270.5L437.4,263.3Z" fill="#8ebd2a"/><path d="M426.9,271.7L426.9,272.2L427.2,272.5L429.0,272.6L430.4,272.1L431.4,271.1L432.9,268.7L435.8,262.6L437.1,259.1L436.9,258.5L436.2,258.5L433.3,261.1ZM435.3,254.8L435.4,254.1L434.8,253.7L432.4,254.3L429.0,255.6L424.8,258.0L422.9,259.5L420.9,261.5L419.7,263.6L419.4,264.6L419.3,265.8L419.7,267.0L420.3,268.2L422.2,270.3L422.9,270.8L423.5,270.6L430.6,259.0Z" fill="#c6d84c"/><path d="M444,249.2 Q431,259 423.5,274" fill="none" stroke="#4f9a14" stroke-width="1.7"/><path d="M425.2,281.5 C426,276.5 429.5,273.6 434,273.8 C437,272.4 440,272.6 442,273.4 L444.5,277.5 L449.6,279.5 C447.5,285.5 441,289.2 434,289.2 C430,288.2 426.6,285.6 425.2,281.5 Z" fill="#cfe05e" stroke="#9cc63c" stroke-width=".8"/><path d="M436.2,270.8 C436.4,266.5 439,263.6 442.6,263.8 C443.4,267 441.8,270.6 438.4,272.4 Z" fill="#86bd3a" stroke="#a9d46c" stroke-width=".9"/><path d="M440,285 C445,282.5 451,283.5 454,288.5 C456,292.5 453.5,296.8 449.5,296.2 C447.5,292 444,289.5 440,289.5 Z" fill="#b2d24e" stroke="#86c04a" stroke-width="1.1"/><path d="M443,288.3 C447,288 450,290.5 451.5,294.5" fill="none" stroke="#8dbb3c" stroke-width="1.6"/><ellipse cx="431.6" cy="286.4" rx="6.9" ry="4.9" transform="rotate(18 431.6 286.4)" fill="#3f8c12"/><ellipse cx="431.3" cy="285.9" rx="5.2" ry="3.4" transform="rotate(18 431.3 285.9)" fill="#7fb526"/><path d="M435.5,279.5 C438,282 440.5,282.5 443,281.2" fill="none" stroke="#f0f08a" stroke-width="1.2" stroke-linecap="round"/></g>
<g id="fl3" transform="translate(44.3,360.4)"><path d="M409.5,298 C411,292 414,289 422.5,284.5" fill="none" stroke="#4f9a22" stroke-width="2.2" stroke-linecap="round"/><path d="M410,292 C408,284 409,277 413,272" fill="none" stroke="#4f9a22" stroke-width="1.8" stroke-linecap="round"/><path d="M410,296 C415,293 420,295 424,294" fill="none" stroke="#4f9a22" stroke-width="1.6" stroke-linecap="round"/><ellipse cx="413.5" cy="273.5" rx="2.6" ry="3.6" transform="rotate(25 413.5 273.5)" fill="#86b62c" stroke="#4f9a1c" stroke-width="1"/><ellipse cx="409.3" cy="282.5" rx="2.2" ry="3.6" transform="rotate(10 409.3 282.5)" fill="#86b62c" stroke="#4f9a1c" stroke-width="1"/><ellipse cx="417.5" cy="270.6" rx="2.4" ry="2.2" transform="rotate(0 417.5 270.6)" fill="#86b62c" stroke="#4f9a1c" stroke-width="1"/><ellipse cx="410.4" cy="297.6" rx="2.6" ry="2.0" transform="rotate(-30 410.4 297.6)" fill="#86b62c" stroke="#4f9a1c" stroke-width="1"/><ellipse cx="420.5" cy="294.8" rx="3.6" ry="1.5" transform="rotate(8 420.5 294.8)" fill="#86b62c" stroke="#4f9a1c" stroke-width="1"/><path d="M437.5,270.5 C440,262 445.5,256.5 453,257 C460.5,257.5 464.5,263.5 464,270 C469,270 471.5,274.5 470.5,278.5 C469.5,283.5 462,285.5 455,284 C448,282.5 443,278.5 438.5,275.5 Z" fill="#f1f1f1" stroke="#c4dab2" stroke-width="1.6" stroke-linejoin="round"/><path d="M441,270 C444,262.5 448.5,259.5 453.5,260 C459,260.5 461.5,265 461,270 C455,273 447,273 441,270 Z" fill="#dedede"/><path d="M444,272.8 C452,272 459,271.6 464,270.5" fill="none" stroke="#c9d9b8" stroke-width="1"/><path d="M441.5,272.6 L447,273.3 M449.5,275 L453.5,273.3" stroke="#e3e36a" stroke-width="1.3" stroke-linecap="round"/><path d="M444.4,248.8C439.6,249.6 434.6,249.6 430.0,251.3C425.8,252.9 421.7,255.3 418.6,258.6C416.7,260.6 415.3,263.8 415.8,266.5C416.4,269.6 418.7,272.6 421.5,274.2C424.4,275.9 428.5,277.1 431.5,275.6C435.0,273.9 436.4,269.4 438.2,266.0C439.9,262.9 440.8,259.4 442.0,256.0C442.9,253.6 443.6,251.2 444.4,248.8Z" fill="#4f9a14"/><path d="M441.6,251.1L434.6,252.0L430.7,253.1L426.0,255.3L423.8,256.6L421.8,258.2L420.0,259.9L419.1,261.0L418.1,263.0L417.7,264.3L417.7,266.2L418.1,267.6L418.9,269.1L419.9,270.4L421.1,271.6L422.5,272.6L425.0,273.7L426.8,274.2L428.5,274.4L430.0,274.1L431.4,273.5L432.0,272.9L433.8,270.5L437.4,263.3Z" fill="#8ebd2a"/><path d="M426.9,271.7L426.9,272.2L427.2,272.5L429.0,272.6L430.4,272.1L431.4,271.1L432.9,268.7L435.8,262.6L437.1,259.1L436.9,258.5L436.2,258.5L433.3,261.1ZM435.3,254.8L435.4,254.1L434.8,253.7L432.4,254.3L429.0,255.6L424.8,258.0L422.9,259.5L420.9,261.5L419.7,263.6L419.4,264.6L419.3,265.8L419.7,267.0L420.3,268.2L422.2,270.3L422.9,270.8L423.5,270.6L430.6,259.0Z" fill="#c6d84c"/><path d="M444,249.2 Q431,259 423.5,274" fill="none" stroke="#4f9a14" stroke-width="1.7"/><path d="M425.2,281.5 C426,276.5 429.5,273.6 434,273.8 C437,272.4 440,272.6 442,273.4 L444.5,277.5 L449.6,279.5 C447.5,285.5 441,289.2 434,289.2 C430,288.2 426.6,285.6 425.2,281.5 Z" fill="#cfe05e" stroke="#9cc63c" stroke-width=".8"/><path d="M436.2,270.8 C436.4,266.5 439,263.6 442.6,263.8 C443.4,267 441.8,270.6 438.4,272.4 Z" fill="#86bd3a" stroke="#a9d46c" stroke-width=".9"/><path d="M440,285 C445,282.5 451,283.5 454,288.5 C456,292.5 453.5,296.8 449.5,296.2 C447.5,292 444,289.5 440,289.5 Z" fill="#b2d24e" stroke="#86c04a" stroke-width="1.1"/><path d="M443,288.3 C447,288 450,290.5 451.5,294.5" fill="none" stroke="#8dbb3c" stroke-width="1.6"/><ellipse cx="431.6" cy="286.4" rx="6.9" ry="4.9" transform="rotate(18 431.6 286.4)" fill="#3f8c12"/><ellipse cx="431.3" cy="285.9" rx="5.2" ry="3.4" transform="rotate(18 431.3 285.9)" fill="#7fb526"/><path d="M435.5,279.5 C438,282 440.5,282.5 443,281.2" fill="none" stroke="#f0f08a" stroke-width="1.2" stroke-linecap="round"/></g>
</g>
</svg>
</div>
</body>
</html>
